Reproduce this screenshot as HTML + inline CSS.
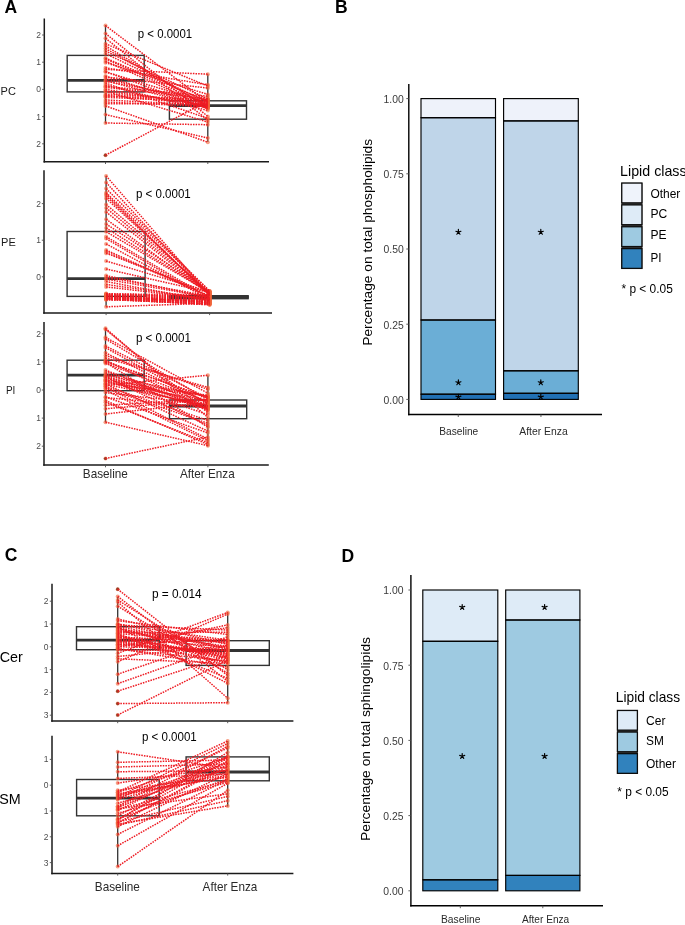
<!DOCTYPE html><html><head><meta charset="utf-8"><style>html,body{margin:0;padding:0;background:#fff;overflow:hidden}svg{display:block;will-change:transform}</style></head><body><svg width="685" height="925" viewBox="0 0 685 925" font-family='"Liberation Sans", sans-serif'>
<rect width="685" height="925" fill="#fff"/>
<text x="4.40" y="13.10" font-size="17.5" text-anchor="start" fill="#000" font-weight="bold">A</text>
<text x="335.00" y="13.10" font-size="17.5" text-anchor="start" fill="#000" font-weight="bold">B</text>
<text x="4.80" y="560.90" font-size="17.5" text-anchor="start" fill="#000" font-weight="bold">C</text>
<text x="341.50" y="562.00" font-size="17.5" text-anchor="start" fill="#000" font-weight="bold">D</text>
<line x1="44.30" y1="18.50" x2="44.30" y2="162.55" stroke="#1a1a1a" stroke-width="1.5"/>
<line x1="43.55" y1="161.80" x2="269.00" y2="161.80" stroke="#1a1a1a" stroke-width="1.5"/>
<line x1="42.10" y1="35.00" x2="44.30" y2="35.00" stroke="#4d4d4d" stroke-width="0.9"/>
<text x="40.90" y="38.00" font-size="8.5" text-anchor="end" fill="#4d4d4d">2</text>
<line x1="42.10" y1="62.20" x2="44.30" y2="62.20" stroke="#4d4d4d" stroke-width="0.9"/>
<text x="40.90" y="65.20" font-size="8.5" text-anchor="end" fill="#4d4d4d">1</text>
<line x1="42.10" y1="89.40" x2="44.30" y2="89.40" stroke="#4d4d4d" stroke-width="0.9"/>
<text x="40.90" y="92.40" font-size="8.5" text-anchor="end" fill="#4d4d4d">0</text>
<line x1="42.10" y1="116.60" x2="44.30" y2="116.60" stroke="#4d4d4d" stroke-width="0.9"/>
<text x="40.90" y="119.60" font-size="8.5" text-anchor="end" fill="#4d4d4d">1</text>
<line x1="42.10" y1="143.80" x2="44.30" y2="143.80" stroke="#4d4d4d" stroke-width="0.9"/>
<text x="40.90" y="146.80" font-size="8.5" text-anchor="end" fill="#4d4d4d">2</text>
<line x1="105.50" y1="161.80" x2="105.50" y2="164.00" stroke="#4d4d4d" stroke-width="0.9"/>
<line x1="207.80" y1="161.80" x2="207.80" y2="164.00" stroke="#4d4d4d" stroke-width="0.9"/>
<line x1="105.50" y1="25.00" x2="105.50" y2="55.40" stroke="#333333" stroke-width="1.3"/>
<line x1="105.50" y1="91.90" x2="105.50" y2="123.20" stroke="#333333" stroke-width="1.3"/>
<rect x="67.20" y="55.40" width="77.00" height="36.50" fill="none" stroke="#333333" stroke-width="1.4"/>
<line x1="67.20" y1="80.30" x2="144.20" y2="80.30" stroke="#333333" stroke-width="2.8"/>
<line x1="207.80" y1="74.20" x2="207.80" y2="100.80" stroke="#333333" stroke-width="1.3"/>
<line x1="207.80" y1="119.20" x2="207.80" y2="142.00" stroke="#333333" stroke-width="1.3"/>
<rect x="169.40" y="100.80" width="77.10" height="18.40" fill="none" stroke="#333333" stroke-width="1.4"/>
<line x1="169.40" y1="105.70" x2="246.50" y2="105.70" stroke="#333333" stroke-width="2.8"/>
<circle cx="105.50" cy="155.20" r="1.6" fill="#000" fill-opacity="1"/>
<circle cx="105.50" cy="43.80" r="2.0" fill="#f0643a" fill-opacity="0.62"/>
<circle cx="207.80" cy="86.10" r="2.0" fill="#f0643a" fill-opacity="0.62"/>
<circle cx="105.50" cy="45.90" r="2.0" fill="#f0643a" fill-opacity="0.62"/>
<circle cx="207.80" cy="107.00" r="2.0" fill="#f0643a" fill-opacity="0.62"/>
<circle cx="105.50" cy="48.50" r="2.0" fill="#f0643a" fill-opacity="0.62"/>
<circle cx="207.80" cy="106.18" r="2.0" fill="#f0643a" fill-opacity="0.62"/>
<circle cx="105.50" cy="51.10" r="2.0" fill="#f0643a" fill-opacity="0.62"/>
<circle cx="207.80" cy="98.96" r="2.0" fill="#f0643a" fill-opacity="0.62"/>
<circle cx="105.50" cy="53.70" r="2.0" fill="#f0643a" fill-opacity="0.62"/>
<circle cx="207.80" cy="102.27" r="2.0" fill="#f0643a" fill-opacity="0.62"/>
<circle cx="105.50" cy="58.12" r="2.0" fill="#f0643a" fill-opacity="0.62"/>
<circle cx="207.80" cy="101.33" r="2.0" fill="#f0643a" fill-opacity="0.62"/>
<circle cx="105.50" cy="58.79" r="2.0" fill="#f0643a" fill-opacity="0.62"/>
<circle cx="207.80" cy="105.10" r="2.0" fill="#f0643a" fill-opacity="0.62"/>
<circle cx="105.50" cy="60.98" r="2.0" fill="#f0643a" fill-opacity="0.62"/>
<circle cx="207.80" cy="107.36" r="2.0" fill="#f0643a" fill-opacity="0.62"/>
<circle cx="105.50" cy="62.64" r="2.0" fill="#f0643a" fill-opacity="0.62"/>
<circle cx="207.80" cy="94.40" r="2.0" fill="#f0643a" fill-opacity="0.62"/>
<circle cx="105.50" cy="67.79" r="2.0" fill="#f0643a" fill-opacity="0.62"/>
<circle cx="207.80" cy="84.80" r="2.0" fill="#f0643a" fill-opacity="0.62"/>
<circle cx="105.50" cy="71.56" r="2.0" fill="#f0643a" fill-opacity="0.62"/>
<circle cx="207.80" cy="108.73" r="2.0" fill="#f0643a" fill-opacity="0.62"/>
<circle cx="105.50" cy="71.90" r="2.0" fill="#f0643a" fill-opacity="0.62"/>
<circle cx="207.80" cy="102.93" r="2.0" fill="#f0643a" fill-opacity="0.62"/>
<circle cx="105.50" cy="76.11" r="2.0" fill="#f0643a" fill-opacity="0.62"/>
<circle cx="207.80" cy="108.43" r="2.0" fill="#f0643a" fill-opacity="0.62"/>
<circle cx="105.50" cy="76.98" r="2.0" fill="#f0643a" fill-opacity="0.62"/>
<circle cx="207.80" cy="88.00" r="2.0" fill="#f0643a" fill-opacity="0.62"/>
<circle cx="105.50" cy="78.70" r="2.0" fill="#f0643a" fill-opacity="0.62"/>
<circle cx="207.80" cy="103.80" r="2.0" fill="#f0643a" fill-opacity="0.62"/>
<circle cx="105.50" cy="80.55" r="2.0" fill="#f0643a" fill-opacity="0.62"/>
<circle cx="207.80" cy="107.86" r="2.0" fill="#f0643a" fill-opacity="0.62"/>
<circle cx="105.50" cy="81.30" r="2.0" fill="#f0643a" fill-opacity="0.62"/>
<circle cx="207.80" cy="100.12" r="2.0" fill="#f0643a" fill-opacity="0.62"/>
<circle cx="105.50" cy="82.99" r="2.0" fill="#f0643a" fill-opacity="0.62"/>
<circle cx="207.80" cy="118.50" r="2.0" fill="#f0643a" fill-opacity="0.62"/>
<circle cx="105.50" cy="85.08" r="2.0" fill="#f0643a" fill-opacity="0.62"/>
<circle cx="207.80" cy="110.50" r="2.0" fill="#f0643a" fill-opacity="0.62"/>
<circle cx="105.50" cy="86.37" r="2.0" fill="#f0643a" fill-opacity="0.62"/>
<circle cx="207.80" cy="96.20" r="2.0" fill="#f0643a" fill-opacity="0.62"/>
<circle cx="105.50" cy="87.35" r="2.0" fill="#f0643a" fill-opacity="0.62"/>
<circle cx="207.80" cy="98.64" r="2.0" fill="#f0643a" fill-opacity="0.62"/>
<circle cx="105.50" cy="89.32" r="2.0" fill="#f0643a" fill-opacity="0.62"/>
<circle cx="207.80" cy="105.74" r="2.0" fill="#f0643a" fill-opacity="0.62"/>
<circle cx="105.50" cy="91.08" r="2.0" fill="#f0643a" fill-opacity="0.62"/>
<circle cx="207.80" cy="122.00" r="2.0" fill="#f0643a" fill-opacity="0.62"/>
<circle cx="105.50" cy="91.36" r="2.0" fill="#f0643a" fill-opacity="0.62"/>
<circle cx="207.80" cy="104.32" r="2.0" fill="#f0643a" fill-opacity="0.62"/>
<circle cx="105.50" cy="93.96" r="2.0" fill="#f0643a" fill-opacity="0.62"/>
<circle cx="207.80" cy="100.43" r="2.0" fill="#f0643a" fill-opacity="0.62"/>
<circle cx="105.50" cy="95.24" r="2.0" fill="#f0643a" fill-opacity="0.62"/>
<circle cx="207.80" cy="104.62" r="2.0" fill="#f0643a" fill-opacity="0.62"/>
<circle cx="105.50" cy="96.17" r="2.0" fill="#f0643a" fill-opacity="0.62"/>
<circle cx="207.80" cy="99.38" r="2.0" fill="#f0643a" fill-opacity="0.62"/>
<circle cx="105.50" cy="97.34" r="2.0" fill="#f0643a" fill-opacity="0.62"/>
<circle cx="207.80" cy="101.67" r="2.0" fill="#f0643a" fill-opacity="0.62"/>
<circle cx="105.50" cy="99.94" r="2.0" fill="#f0643a" fill-opacity="0.62"/>
<circle cx="207.80" cy="105.24" r="2.0" fill="#f0643a" fill-opacity="0.62"/>
<circle cx="105.50" cy="102.00" r="2.0" fill="#f0643a" fill-opacity="0.62"/>
<circle cx="207.80" cy="106.51" r="2.0" fill="#f0643a" fill-opacity="0.62"/>
<circle cx="105.50" cy="103.80" r="2.0" fill="#f0643a" fill-opacity="0.62"/>
<circle cx="207.80" cy="103.47" r="2.0" fill="#f0643a" fill-opacity="0.62"/>
<circle cx="105.50" cy="155.20" r="2.0" fill="#f0643a" fill-opacity="0.62"/>
<circle cx="207.80" cy="100.94" r="2.0" fill="#f0643a" fill-opacity="0.62"/>
<circle cx="105.50" cy="123.00" r="2.0" fill="#f0643a" fill-opacity="0.62"/>
<circle cx="207.80" cy="124.70" r="2.0" fill="#f0643a" fill-opacity="0.62"/>
<circle cx="105.50" cy="25.60" r="2.0" fill="#f0643a" fill-opacity="0.62"/>
<circle cx="207.80" cy="102.44" r="2.0" fill="#f0643a" fill-opacity="0.62"/>
<circle cx="105.50" cy="33.40" r="2.0" fill="#f0643a" fill-opacity="0.62"/>
<circle cx="207.80" cy="116.40" r="2.0" fill="#f0643a" fill-opacity="0.62"/>
<circle cx="105.50" cy="38.20" r="2.0" fill="#f0643a" fill-opacity="0.62"/>
<circle cx="207.80" cy="120.10" r="2.0" fill="#f0643a" fill-opacity="0.62"/>
<circle cx="105.50" cy="69.43" r="2.0" fill="#f0643a" fill-opacity="0.62"/>
<circle cx="207.80" cy="74.20" r="2.0" fill="#f0643a" fill-opacity="0.62"/>
<circle cx="105.50" cy="114.60" r="2.0" fill="#f0643a" fill-opacity="0.62"/>
<circle cx="207.80" cy="138.00" r="2.0" fill="#f0643a" fill-opacity="0.62"/>
<circle cx="105.50" cy="105.90" r="2.0" fill="#f0643a" fill-opacity="0.62"/>
<circle cx="207.80" cy="142.20" r="2.0" fill="#f0643a" fill-opacity="0.62"/>
<line x1="105.50" y1="43.80" x2="207.80" y2="86.10" stroke="#ee1c24" stroke-width="1.5" stroke-dasharray="1.55 1.1"/>
<line x1="105.50" y1="45.90" x2="207.80" y2="107.00" stroke="#ee1c24" stroke-width="1.5" stroke-dasharray="1.55 1.1"/>
<line x1="105.50" y1="48.50" x2="207.80" y2="106.18" stroke="#ee1c24" stroke-width="1.5" stroke-dasharray="1.55 1.1"/>
<line x1="105.50" y1="51.10" x2="207.80" y2="98.96" stroke="#ee1c24" stroke-width="1.5" stroke-dasharray="1.55 1.1"/>
<line x1="105.50" y1="53.70" x2="207.80" y2="102.27" stroke="#ee1c24" stroke-width="1.5" stroke-dasharray="1.55 1.1"/>
<line x1="105.50" y1="58.12" x2="207.80" y2="101.33" stroke="#ee1c24" stroke-width="1.5" stroke-dasharray="1.55 1.1"/>
<line x1="105.50" y1="58.79" x2="207.80" y2="105.10" stroke="#ee1c24" stroke-width="1.5" stroke-dasharray="1.55 1.1"/>
<line x1="105.50" y1="60.98" x2="207.80" y2="107.36" stroke="#ee1c24" stroke-width="1.5" stroke-dasharray="1.55 1.1"/>
<line x1="105.50" y1="62.64" x2="207.80" y2="94.40" stroke="#ee1c24" stroke-width="1.5" stroke-dasharray="1.55 1.1"/>
<line x1="105.50" y1="67.79" x2="207.80" y2="84.80" stroke="#ee1c24" stroke-width="1.5" stroke-dasharray="1.55 1.1"/>
<line x1="105.50" y1="71.56" x2="207.80" y2="108.73" stroke="#ee1c24" stroke-width="1.5" stroke-dasharray="1.55 1.1"/>
<line x1="105.50" y1="71.90" x2="207.80" y2="102.93" stroke="#ee1c24" stroke-width="1.5" stroke-dasharray="1.55 1.1"/>
<line x1="105.50" y1="76.11" x2="207.80" y2="108.43" stroke="#ee1c24" stroke-width="1.5" stroke-dasharray="1.55 1.1"/>
<line x1="105.50" y1="76.98" x2="207.80" y2="88.00" stroke="#ee1c24" stroke-width="1.5" stroke-dasharray="1.55 1.1"/>
<line x1="105.50" y1="78.70" x2="207.80" y2="103.80" stroke="#ee1c24" stroke-width="1.5" stroke-dasharray="1.55 1.1"/>
<line x1="105.50" y1="80.55" x2="207.80" y2="107.86" stroke="#ee1c24" stroke-width="1.5" stroke-dasharray="1.55 1.1"/>
<line x1="105.50" y1="81.30" x2="207.80" y2="100.12" stroke="#ee1c24" stroke-width="1.5" stroke-dasharray="1.55 1.1"/>
<line x1="105.50" y1="82.99" x2="207.80" y2="118.50" stroke="#ee1c24" stroke-width="1.5" stroke-dasharray="1.55 1.1"/>
<line x1="105.50" y1="85.08" x2="207.80" y2="110.50" stroke="#ee1c24" stroke-width="1.5" stroke-dasharray="1.55 1.1"/>
<line x1="105.50" y1="86.37" x2="207.80" y2="96.20" stroke="#ee1c24" stroke-width="1.5" stroke-dasharray="1.55 1.1"/>
<line x1="105.50" y1="87.35" x2="207.80" y2="98.64" stroke="#ee1c24" stroke-width="1.5" stroke-dasharray="1.55 1.1"/>
<line x1="105.50" y1="89.32" x2="207.80" y2="105.74" stroke="#ee1c24" stroke-width="1.5" stroke-dasharray="1.55 1.1"/>
<line x1="105.50" y1="91.08" x2="207.80" y2="122.00" stroke="#ee1c24" stroke-width="1.5" stroke-dasharray="1.55 1.1"/>
<line x1="105.50" y1="91.36" x2="207.80" y2="104.32" stroke="#ee1c24" stroke-width="1.5" stroke-dasharray="1.55 1.1"/>
<line x1="105.50" y1="93.96" x2="207.80" y2="100.43" stroke="#ee1c24" stroke-width="1.5" stroke-dasharray="1.55 1.1"/>
<line x1="105.50" y1="95.24" x2="207.80" y2="104.62" stroke="#ee1c24" stroke-width="1.5" stroke-dasharray="1.55 1.1"/>
<line x1="105.50" y1="96.17" x2="207.80" y2="99.38" stroke="#ee1c24" stroke-width="1.5" stroke-dasharray="1.55 1.1"/>
<line x1="105.50" y1="97.34" x2="207.80" y2="101.67" stroke="#ee1c24" stroke-width="1.5" stroke-dasharray="1.55 1.1"/>
<line x1="105.50" y1="99.94" x2="207.80" y2="105.24" stroke="#ee1c24" stroke-width="1.5" stroke-dasharray="1.55 1.1"/>
<line x1="105.50" y1="102.00" x2="207.80" y2="106.51" stroke="#ee1c24" stroke-width="1.5" stroke-dasharray="1.55 1.1"/>
<line x1="105.50" y1="103.80" x2="207.80" y2="103.47" stroke="#ee1c24" stroke-width="1.5" stroke-dasharray="1.55 1.1"/>
<line x1="105.50" y1="155.20" x2="207.80" y2="100.94" stroke="#ee1c24" stroke-width="1.5" stroke-dasharray="1.55 1.1"/>
<line x1="105.50" y1="123.00" x2="207.80" y2="124.70" stroke="#ee1c24" stroke-width="1.5" stroke-dasharray="1.55 1.1"/>
<line x1="105.50" y1="25.60" x2="207.80" y2="102.44" stroke="#ee1c24" stroke-width="1.5" stroke-dasharray="1.55 1.1"/>
<line x1="105.50" y1="33.40" x2="207.80" y2="116.40" stroke="#ee1c24" stroke-width="1.5" stroke-dasharray="1.55 1.1"/>
<line x1="105.50" y1="38.20" x2="207.80" y2="120.10" stroke="#ee1c24" stroke-width="1.5" stroke-dasharray="1.55 1.1"/>
<line x1="105.50" y1="69.43" x2="207.80" y2="74.20" stroke="#ee1c24" stroke-width="1.5" stroke-dasharray="1.55 1.1"/>
<line x1="105.50" y1="114.60" x2="207.80" y2="138.00" stroke="#ee1c24" stroke-width="1.5" stroke-dasharray="1.55 1.1"/>
<line x1="105.50" y1="105.90" x2="207.80" y2="142.20" stroke="#ee1c24" stroke-width="1.5" stroke-dasharray="1.55 1.1"/>
<text x="15.90" y="94.90" font-size="11.8" text-anchor="end" fill="#1a1a1a" textLength="15.3" lengthAdjust="spacingAndGlyphs">PC</text>
<text x="137.80" y="37.90" font-size="12" text-anchor="start" fill="#000" textLength="54.3" lengthAdjust="spacingAndGlyphs">p &lt; 0.0001</text>
<line x1="44.00" y1="170.20" x2="44.00" y2="313.65" stroke="#1a1a1a" stroke-width="1.5"/>
<line x1="43.25" y1="312.90" x2="272.00" y2="312.90" stroke="#1a1a1a" stroke-width="1.5"/>
<line x1="41.80" y1="203.60" x2="44.00" y2="203.60" stroke="#4d4d4d" stroke-width="0.9"/>
<text x="40.90" y="206.60" font-size="8.5" text-anchor="end" fill="#4d4d4d">2</text>
<line x1="41.80" y1="240.20" x2="44.00" y2="240.20" stroke="#4d4d4d" stroke-width="0.9"/>
<text x="40.90" y="243.20" font-size="8.5" text-anchor="end" fill="#4d4d4d">1</text>
<line x1="41.80" y1="276.80" x2="44.00" y2="276.80" stroke="#4d4d4d" stroke-width="0.9"/>
<text x="40.90" y="279.80" font-size="8.5" text-anchor="end" fill="#4d4d4d">0</text>
<line x1="106.10" y1="312.90" x2="106.10" y2="315.10" stroke="#4d4d4d" stroke-width="0.9"/>
<line x1="209.60" y1="312.90" x2="209.60" y2="315.10" stroke="#4d4d4d" stroke-width="0.9"/>
<line x1="106.10" y1="175.80" x2="106.10" y2="231.50" stroke="#333333" stroke-width="1.3"/>
<line x1="106.10" y1="296.40" x2="106.10" y2="306.40" stroke="#333333" stroke-width="1.3"/>
<rect x="67.10" y="231.50" width="78.00" height="64.90" fill="none" stroke="#333333" stroke-width="1.4"/>
<line x1="67.10" y1="278.60" x2="145.10" y2="278.60" stroke="#333333" stroke-width="2.8"/>
<line x1="209.60" y1="297.20" x2="209.60" y2="297.20" stroke="#333333" stroke-width="1.3"/>
<line x1="209.60" y1="297.20" x2="209.60" y2="297.20" stroke="#333333" stroke-width="1.3"/>
<rect x="169.30" y="297.20" width="79.50" height="0.00" fill="none" stroke="#333333" stroke-width="1.4"/>
<line x1="169.30" y1="297.20" x2="248.80" y2="297.20" stroke="#333333" stroke-width="2.8"/>
<rect x="169.30" y="295.00" width="79.50" height="4.40" fill="#333333" stroke="none" stroke-width="0"/>
<circle cx="106.10" cy="175.90" r="2.0" fill="#f0643a" fill-opacity="0.62"/>
<circle cx="209.60" cy="295.28" r="2.0" fill="#f0643a" fill-opacity="0.62"/>
<circle cx="106.10" cy="182.50" r="2.0" fill="#f0643a" fill-opacity="0.62"/>
<circle cx="209.60" cy="295.59" r="2.0" fill="#f0643a" fill-opacity="0.62"/>
<circle cx="106.10" cy="188.60" r="2.0" fill="#f0643a" fill-opacity="0.62"/>
<circle cx="209.60" cy="290.97" r="2.0" fill="#f0643a" fill-opacity="0.62"/>
<circle cx="106.10" cy="192.70" r="2.0" fill="#f0643a" fill-opacity="0.62"/>
<circle cx="209.60" cy="291.24" r="2.0" fill="#f0643a" fill-opacity="0.62"/>
<circle cx="106.10" cy="194.20" r="2.0" fill="#f0643a" fill-opacity="0.62"/>
<circle cx="209.60" cy="295.42" r="2.0" fill="#f0643a" fill-opacity="0.62"/>
<circle cx="106.10" cy="196.10" r="2.0" fill="#f0643a" fill-opacity="0.62"/>
<circle cx="209.60" cy="294.53" r="2.0" fill="#f0643a" fill-opacity="0.62"/>
<circle cx="106.10" cy="198.40" r="2.0" fill="#f0643a" fill-opacity="0.62"/>
<circle cx="209.60" cy="293.64" r="2.0" fill="#f0643a" fill-opacity="0.62"/>
<circle cx="106.10" cy="204.50" r="2.0" fill="#f0643a" fill-opacity="0.62"/>
<circle cx="209.60" cy="291.75" r="2.0" fill="#f0643a" fill-opacity="0.62"/>
<circle cx="106.10" cy="208.00" r="2.0" fill="#f0643a" fill-opacity="0.62"/>
<circle cx="209.60" cy="293.43" r="2.0" fill="#f0643a" fill-opacity="0.62"/>
<circle cx="106.10" cy="212.00" r="2.0" fill="#f0643a" fill-opacity="0.62"/>
<circle cx="209.60" cy="294.01" r="2.0" fill="#f0643a" fill-opacity="0.62"/>
<circle cx="106.10" cy="219.20" r="2.0" fill="#f0643a" fill-opacity="0.62"/>
<circle cx="209.60" cy="294.39" r="2.0" fill="#f0643a" fill-opacity="0.62"/>
<circle cx="106.10" cy="224.00" r="2.0" fill="#f0643a" fill-opacity="0.62"/>
<circle cx="209.60" cy="291.36" r="2.0" fill="#f0643a" fill-opacity="0.62"/>
<circle cx="106.10" cy="228.00" r="2.0" fill="#f0643a" fill-opacity="0.62"/>
<circle cx="209.60" cy="292.78" r="2.0" fill="#f0643a" fill-opacity="0.62"/>
<circle cx="106.10" cy="231.70" r="2.0" fill="#f0643a" fill-opacity="0.62"/>
<circle cx="209.60" cy="292.55" r="2.0" fill="#f0643a" fill-opacity="0.62"/>
<circle cx="106.10" cy="236.60" r="2.0" fill="#f0643a" fill-opacity="0.62"/>
<circle cx="209.60" cy="298.13" r="2.0" fill="#f0643a" fill-opacity="0.62"/>
<circle cx="106.10" cy="238.60" r="2.0" fill="#f0643a" fill-opacity="0.62"/>
<circle cx="209.60" cy="299.76" r="2.0" fill="#f0643a" fill-opacity="0.62"/>
<circle cx="106.10" cy="243.90" r="2.0" fill="#f0643a" fill-opacity="0.62"/>
<circle cx="209.60" cy="299.49" r="2.0" fill="#f0643a" fill-opacity="0.62"/>
<circle cx="106.10" cy="250.00" r="2.0" fill="#f0643a" fill-opacity="0.62"/>
<circle cx="209.60" cy="296.60" r="2.0" fill="#f0643a" fill-opacity="0.62"/>
<circle cx="106.10" cy="251.60" r="2.0" fill="#f0643a" fill-opacity="0.62"/>
<circle cx="209.60" cy="295.86" r="2.0" fill="#f0643a" fill-opacity="0.62"/>
<circle cx="106.10" cy="253.20" r="2.0" fill="#f0643a" fill-opacity="0.62"/>
<circle cx="209.60" cy="293.06" r="2.0" fill="#f0643a" fill-opacity="0.62"/>
<circle cx="106.10" cy="261.00" r="2.0" fill="#f0643a" fill-opacity="0.62"/>
<circle cx="209.60" cy="291.96" r="2.0" fill="#f0643a" fill-opacity="0.62"/>
<circle cx="106.10" cy="269.00" r="2.0" fill="#f0643a" fill-opacity="0.62"/>
<circle cx="209.60" cy="292.39" r="2.0" fill="#f0643a" fill-opacity="0.62"/>
<circle cx="106.10" cy="275.60" r="2.0" fill="#f0643a" fill-opacity="0.62"/>
<circle cx="209.60" cy="297.67" r="2.0" fill="#f0643a" fill-opacity="0.62"/>
<circle cx="106.10" cy="277.20" r="2.0" fill="#f0643a" fill-opacity="0.62"/>
<circle cx="209.60" cy="296.17" r="2.0" fill="#f0643a" fill-opacity="0.62"/>
<circle cx="106.10" cy="279.20" r="2.0" fill="#f0643a" fill-opacity="0.62"/>
<circle cx="209.60" cy="297.30" r="2.0" fill="#f0643a" fill-opacity="0.62"/>
<circle cx="106.10" cy="281.60" r="2.0" fill="#f0643a" fill-opacity="0.62"/>
<circle cx="209.60" cy="300.74" r="2.0" fill="#f0643a" fill-opacity="0.62"/>
<circle cx="106.10" cy="284.50" r="2.0" fill="#f0643a" fill-opacity="0.62"/>
<circle cx="209.60" cy="298.95" r="2.0" fill="#f0643a" fill-opacity="0.62"/>
<circle cx="106.10" cy="286.90" r="2.0" fill="#f0643a" fill-opacity="0.62"/>
<circle cx="209.60" cy="299.00" r="2.0" fill="#f0643a" fill-opacity="0.62"/>
<circle cx="106.10" cy="293.61" r="2.0" fill="#f0643a" fill-opacity="0.62"/>
<circle cx="209.60" cy="297.11" r="2.0" fill="#f0643a" fill-opacity="0.62"/>
<circle cx="106.10" cy="293.87" r="2.0" fill="#f0643a" fill-opacity="0.62"/>
<circle cx="209.60" cy="294.77" r="2.0" fill="#f0643a" fill-opacity="0.62"/>
<circle cx="106.10" cy="294.20" r="2.0" fill="#f0643a" fill-opacity="0.62"/>
<circle cx="209.60" cy="298.29" r="2.0" fill="#f0643a" fill-opacity="0.62"/>
<circle cx="106.10" cy="294.72" r="2.0" fill="#f0643a" fill-opacity="0.62"/>
<circle cx="209.60" cy="296.93" r="2.0" fill="#f0643a" fill-opacity="0.62"/>
<circle cx="106.10" cy="294.94" r="2.0" fill="#f0643a" fill-opacity="0.62"/>
<circle cx="209.60" cy="300.01" r="2.0" fill="#f0643a" fill-opacity="0.62"/>
<circle cx="106.10" cy="295.24" r="2.0" fill="#f0643a" fill-opacity="0.62"/>
<circle cx="209.60" cy="302.76" r="2.0" fill="#f0643a" fill-opacity="0.62"/>
<circle cx="106.10" cy="295.41" r="2.0" fill="#f0643a" fill-opacity="0.62"/>
<circle cx="209.60" cy="301.12" r="2.0" fill="#f0643a" fill-opacity="0.62"/>
<circle cx="106.10" cy="295.89" r="2.0" fill="#f0643a" fill-opacity="0.62"/>
<circle cx="209.60" cy="298.70" r="2.0" fill="#f0643a" fill-opacity="0.62"/>
<circle cx="106.10" cy="296.03" r="2.0" fill="#f0643a" fill-opacity="0.62"/>
<circle cx="209.60" cy="302.57" r="2.0" fill="#f0643a" fill-opacity="0.62"/>
<circle cx="106.10" cy="296.40" r="2.0" fill="#f0643a" fill-opacity="0.62"/>
<circle cx="209.60" cy="301.84" r="2.0" fill="#f0643a" fill-opacity="0.62"/>
<circle cx="106.10" cy="296.90" r="2.0" fill="#f0643a" fill-opacity="0.62"/>
<circle cx="209.60" cy="301.41" r="2.0" fill="#f0643a" fill-opacity="0.62"/>
<circle cx="106.10" cy="297.10" r="2.0" fill="#f0643a" fill-opacity="0.62"/>
<circle cx="209.60" cy="303.66" r="2.0" fill="#f0643a" fill-opacity="0.62"/>
<circle cx="106.10" cy="297.39" r="2.0" fill="#f0643a" fill-opacity="0.62"/>
<circle cx="209.60" cy="302.22" r="2.0" fill="#f0643a" fill-opacity="0.62"/>
<circle cx="106.10" cy="297.74" r="2.0" fill="#f0643a" fill-opacity="0.62"/>
<circle cx="209.60" cy="303.53" r="2.0" fill="#f0643a" fill-opacity="0.62"/>
<circle cx="106.10" cy="298.09" r="2.0" fill="#f0643a" fill-opacity="0.62"/>
<circle cx="209.60" cy="300.61" r="2.0" fill="#f0643a" fill-opacity="0.62"/>
<circle cx="106.10" cy="298.38" r="2.0" fill="#f0643a" fill-opacity="0.62"/>
<circle cx="209.60" cy="304.47" r="2.0" fill="#f0643a" fill-opacity="0.62"/>
<circle cx="106.10" cy="298.52" r="2.0" fill="#f0643a" fill-opacity="0.62"/>
<circle cx="209.60" cy="304.93" r="2.0" fill="#f0643a" fill-opacity="0.62"/>
<circle cx="106.10" cy="298.77" r="2.0" fill="#f0643a" fill-opacity="0.62"/>
<circle cx="209.60" cy="300.21" r="2.0" fill="#f0643a" fill-opacity="0.62"/>
<circle cx="106.10" cy="299.17" r="2.0" fill="#f0643a" fill-opacity="0.62"/>
<circle cx="209.60" cy="304.32" r="2.0" fill="#f0643a" fill-opacity="0.62"/>
<circle cx="106.10" cy="299.46" r="2.0" fill="#f0643a" fill-opacity="0.62"/>
<circle cx="209.60" cy="304.04" r="2.0" fill="#f0643a" fill-opacity="0.62"/>
<circle cx="106.10" cy="299.76" r="2.0" fill="#f0643a" fill-opacity="0.62"/>
<circle cx="209.60" cy="302.10" r="2.0" fill="#f0643a" fill-opacity="0.62"/>
<circle cx="106.10" cy="306.80" r="2.0" fill="#f0643a" fill-opacity="0.62"/>
<circle cx="209.60" cy="303.26" r="2.0" fill="#f0643a" fill-opacity="0.62"/>
<line x1="106.10" y1="175.90" x2="209.60" y2="295.28" stroke="#ee1c24" stroke-width="1.5" stroke-dasharray="1.55 1.1"/>
<line x1="106.10" y1="182.50" x2="209.60" y2="295.59" stroke="#ee1c24" stroke-width="1.5" stroke-dasharray="1.55 1.1"/>
<line x1="106.10" y1="188.60" x2="209.60" y2="290.97" stroke="#ee1c24" stroke-width="1.5" stroke-dasharray="1.55 1.1"/>
<line x1="106.10" y1="192.70" x2="209.60" y2="291.24" stroke="#ee1c24" stroke-width="1.5" stroke-dasharray="1.55 1.1"/>
<line x1="106.10" y1="194.20" x2="209.60" y2="295.42" stroke="#ee1c24" stroke-width="1.5" stroke-dasharray="1.55 1.1"/>
<line x1="106.10" y1="196.10" x2="209.60" y2="294.53" stroke="#ee1c24" stroke-width="1.5" stroke-dasharray="1.55 1.1"/>
<line x1="106.10" y1="198.40" x2="209.60" y2="293.64" stroke="#ee1c24" stroke-width="1.5" stroke-dasharray="1.55 1.1"/>
<line x1="106.10" y1="204.50" x2="209.60" y2="291.75" stroke="#ee1c24" stroke-width="1.5" stroke-dasharray="1.55 1.1"/>
<line x1="106.10" y1="208.00" x2="209.60" y2="293.43" stroke="#ee1c24" stroke-width="1.5" stroke-dasharray="1.55 1.1"/>
<line x1="106.10" y1="212.00" x2="209.60" y2="294.01" stroke="#ee1c24" stroke-width="1.5" stroke-dasharray="1.55 1.1"/>
<line x1="106.10" y1="219.20" x2="209.60" y2="294.39" stroke="#ee1c24" stroke-width="1.5" stroke-dasharray="1.55 1.1"/>
<line x1="106.10" y1="224.00" x2="209.60" y2="291.36" stroke="#ee1c24" stroke-width="1.5" stroke-dasharray="1.55 1.1"/>
<line x1="106.10" y1="228.00" x2="209.60" y2="292.78" stroke="#ee1c24" stroke-width="1.5" stroke-dasharray="1.55 1.1"/>
<line x1="106.10" y1="231.70" x2="209.60" y2="292.55" stroke="#ee1c24" stroke-width="1.5" stroke-dasharray="1.55 1.1"/>
<line x1="106.10" y1="236.60" x2="209.60" y2="298.13" stroke="#ee1c24" stroke-width="1.5" stroke-dasharray="1.55 1.1"/>
<line x1="106.10" y1="238.60" x2="209.60" y2="299.76" stroke="#ee1c24" stroke-width="1.5" stroke-dasharray="1.55 1.1"/>
<line x1="106.10" y1="243.90" x2="209.60" y2="299.49" stroke="#ee1c24" stroke-width="1.5" stroke-dasharray="1.55 1.1"/>
<line x1="106.10" y1="250.00" x2="209.60" y2="296.60" stroke="#ee1c24" stroke-width="1.5" stroke-dasharray="1.55 1.1"/>
<line x1="106.10" y1="251.60" x2="209.60" y2="295.86" stroke="#ee1c24" stroke-width="1.5" stroke-dasharray="1.55 1.1"/>
<line x1="106.10" y1="253.20" x2="209.60" y2="293.06" stroke="#ee1c24" stroke-width="1.5" stroke-dasharray="1.55 1.1"/>
<line x1="106.10" y1="261.00" x2="209.60" y2="291.96" stroke="#ee1c24" stroke-width="1.5" stroke-dasharray="1.55 1.1"/>
<line x1="106.10" y1="269.00" x2="209.60" y2="292.39" stroke="#ee1c24" stroke-width="1.5" stroke-dasharray="1.55 1.1"/>
<line x1="106.10" y1="275.60" x2="209.60" y2="297.67" stroke="#ee1c24" stroke-width="1.5" stroke-dasharray="1.55 1.1"/>
<line x1="106.10" y1="277.20" x2="209.60" y2="296.17" stroke="#ee1c24" stroke-width="1.5" stroke-dasharray="1.55 1.1"/>
<line x1="106.10" y1="279.20" x2="209.60" y2="297.30" stroke="#ee1c24" stroke-width="1.5" stroke-dasharray="1.55 1.1"/>
<line x1="106.10" y1="281.60" x2="209.60" y2="300.74" stroke="#ee1c24" stroke-width="1.5" stroke-dasharray="1.55 1.1"/>
<line x1="106.10" y1="284.50" x2="209.60" y2="298.95" stroke="#ee1c24" stroke-width="1.5" stroke-dasharray="1.55 1.1"/>
<line x1="106.10" y1="286.90" x2="209.60" y2="299.00" stroke="#ee1c24" stroke-width="1.5" stroke-dasharray="1.55 1.1"/>
<line x1="106.10" y1="293.61" x2="209.60" y2="297.11" stroke="#ee1c24" stroke-width="1.5" stroke-dasharray="1.55 1.1"/>
<line x1="106.10" y1="293.87" x2="209.60" y2="294.77" stroke="#ee1c24" stroke-width="1.5" stroke-dasharray="1.55 1.1"/>
<line x1="106.10" y1="294.20" x2="209.60" y2="298.29" stroke="#ee1c24" stroke-width="1.5" stroke-dasharray="1.55 1.1"/>
<line x1="106.10" y1="294.72" x2="209.60" y2="296.93" stroke="#ee1c24" stroke-width="1.5" stroke-dasharray="1.55 1.1"/>
<line x1="106.10" y1="294.94" x2="209.60" y2="300.01" stroke="#ee1c24" stroke-width="1.5" stroke-dasharray="1.55 1.1"/>
<line x1="106.10" y1="295.24" x2="209.60" y2="302.76" stroke="#ee1c24" stroke-width="1.5" stroke-dasharray="1.55 1.1"/>
<line x1="106.10" y1="295.41" x2="209.60" y2="301.12" stroke="#ee1c24" stroke-width="1.5" stroke-dasharray="1.55 1.1"/>
<line x1="106.10" y1="295.89" x2="209.60" y2="298.70" stroke="#ee1c24" stroke-width="1.5" stroke-dasharray="1.55 1.1"/>
<line x1="106.10" y1="296.03" x2="209.60" y2="302.57" stroke="#ee1c24" stroke-width="1.5" stroke-dasharray="1.55 1.1"/>
<line x1="106.10" y1="296.40" x2="209.60" y2="301.84" stroke="#ee1c24" stroke-width="1.5" stroke-dasharray="1.55 1.1"/>
<line x1="106.10" y1="296.90" x2="209.60" y2="301.41" stroke="#ee1c24" stroke-width="1.5" stroke-dasharray="1.55 1.1"/>
<line x1="106.10" y1="297.10" x2="209.60" y2="303.66" stroke="#ee1c24" stroke-width="1.5" stroke-dasharray="1.55 1.1"/>
<line x1="106.10" y1="297.39" x2="209.60" y2="302.22" stroke="#ee1c24" stroke-width="1.5" stroke-dasharray="1.55 1.1"/>
<line x1="106.10" y1="297.74" x2="209.60" y2="303.53" stroke="#ee1c24" stroke-width="1.5" stroke-dasharray="1.55 1.1"/>
<line x1="106.10" y1="298.09" x2="209.60" y2="300.61" stroke="#ee1c24" stroke-width="1.5" stroke-dasharray="1.55 1.1"/>
<line x1="106.10" y1="298.38" x2="209.60" y2="304.47" stroke="#ee1c24" stroke-width="1.5" stroke-dasharray="1.55 1.1"/>
<line x1="106.10" y1="298.52" x2="209.60" y2="304.93" stroke="#ee1c24" stroke-width="1.5" stroke-dasharray="1.55 1.1"/>
<line x1="106.10" y1="298.77" x2="209.60" y2="300.21" stroke="#ee1c24" stroke-width="1.5" stroke-dasharray="1.55 1.1"/>
<line x1="106.10" y1="299.17" x2="209.60" y2="304.32" stroke="#ee1c24" stroke-width="1.5" stroke-dasharray="1.55 1.1"/>
<line x1="106.10" y1="299.46" x2="209.60" y2="304.04" stroke="#ee1c24" stroke-width="1.5" stroke-dasharray="1.55 1.1"/>
<line x1="106.10" y1="299.76" x2="209.60" y2="302.10" stroke="#ee1c24" stroke-width="1.5" stroke-dasharray="1.55 1.1"/>
<line x1="106.10" y1="306.80" x2="209.60" y2="303.26" stroke="#ee1c24" stroke-width="1.5" stroke-dasharray="1.55 1.1"/>
<text x="15.80" y="245.50" font-size="11.8" text-anchor="end" fill="#1a1a1a" textLength="14.7" lengthAdjust="spacingAndGlyphs">PE</text>
<text x="135.90" y="197.90" font-size="12" text-anchor="start" fill="#000" textLength="54.9" lengthAdjust="spacingAndGlyphs">p &lt; 0.0001</text>
<line x1="44.00" y1="322.00" x2="44.00" y2="465.85" stroke="#1a1a1a" stroke-width="1.5"/>
<line x1="43.25" y1="465.10" x2="268.80" y2="465.10" stroke="#1a1a1a" stroke-width="1.5"/>
<line x1="41.80" y1="333.80" x2="44.00" y2="333.80" stroke="#4d4d4d" stroke-width="0.9"/>
<text x="40.90" y="336.80" font-size="8.5" text-anchor="end" fill="#4d4d4d">2</text>
<line x1="41.80" y1="361.90" x2="44.00" y2="361.90" stroke="#4d4d4d" stroke-width="0.9"/>
<text x="40.90" y="364.90" font-size="8.5" text-anchor="end" fill="#4d4d4d">1</text>
<line x1="41.80" y1="390.00" x2="44.00" y2="390.00" stroke="#4d4d4d" stroke-width="0.9"/>
<text x="40.90" y="393.00" font-size="8.5" text-anchor="end" fill="#4d4d4d">0</text>
<line x1="41.80" y1="418.10" x2="44.00" y2="418.10" stroke="#4d4d4d" stroke-width="0.9"/>
<text x="40.90" y="421.10" font-size="8.5" text-anchor="end" fill="#4d4d4d">1</text>
<line x1="41.80" y1="446.20" x2="44.00" y2="446.20" stroke="#4d4d4d" stroke-width="0.9"/>
<text x="40.90" y="449.20" font-size="8.5" text-anchor="end" fill="#4d4d4d">2</text>
<line x1="105.50" y1="465.10" x2="105.50" y2="467.30" stroke="#4d4d4d" stroke-width="0.9"/>
<line x1="207.90" y1="465.10" x2="207.90" y2="467.30" stroke="#4d4d4d" stroke-width="0.9"/>
<line x1="105.50" y1="327.60" x2="105.50" y2="360.20" stroke="#333333" stroke-width="1.3"/>
<line x1="105.50" y1="390.70" x2="105.50" y2="422.20" stroke="#333333" stroke-width="1.3"/>
<rect x="67.10" y="360.20" width="77.10" height="30.50" fill="none" stroke="#333333" stroke-width="1.4"/>
<line x1="67.10" y1="375.10" x2="144.20" y2="375.10" stroke="#333333" stroke-width="2.8"/>
<line x1="207.90" y1="375.40" x2="207.90" y2="400.00" stroke="#333333" stroke-width="1.3"/>
<line x1="207.90" y1="418.70" x2="207.90" y2="446.30" stroke="#333333" stroke-width="1.3"/>
<rect x="169.50" y="400.00" width="77.20" height="18.70" fill="none" stroke="#333333" stroke-width="1.4"/>
<line x1="169.50" y1="406.00" x2="246.70" y2="406.00" stroke="#333333" stroke-width="2.8"/>
<circle cx="105.50" cy="458.50" r="1.6" fill="#000" fill-opacity="1"/>
<circle cx="105.50" cy="337.30" r="2.0" fill="#f0643a" fill-opacity="0.62"/>
<circle cx="207.90" cy="393.20" r="2.0" fill="#f0643a" fill-opacity="0.62"/>
<circle cx="105.50" cy="339.00" r="2.0" fill="#f0643a" fill-opacity="0.62"/>
<circle cx="207.90" cy="400.16" r="2.0" fill="#f0643a" fill-opacity="0.62"/>
<circle cx="105.50" cy="345.90" r="2.0" fill="#f0643a" fill-opacity="0.62"/>
<circle cx="207.90" cy="398.29" r="2.0" fill="#f0643a" fill-opacity="0.62"/>
<circle cx="105.50" cy="347.70" r="2.0" fill="#f0643a" fill-opacity="0.62"/>
<circle cx="207.90" cy="403.25" r="2.0" fill="#f0643a" fill-opacity="0.62"/>
<circle cx="105.50" cy="352.80" r="2.0" fill="#f0643a" fill-opacity="0.62"/>
<circle cx="207.90" cy="403.64" r="2.0" fill="#f0643a" fill-opacity="0.62"/>
<circle cx="105.50" cy="355.40" r="2.0" fill="#f0643a" fill-opacity="0.62"/>
<circle cx="207.90" cy="389.30" r="2.0" fill="#f0643a" fill-opacity="0.62"/>
<circle cx="105.50" cy="358.00" r="2.0" fill="#f0643a" fill-opacity="0.62"/>
<circle cx="207.90" cy="387.40" r="2.0" fill="#f0643a" fill-opacity="0.62"/>
<circle cx="105.50" cy="360.25" r="2.0" fill="#f0643a" fill-opacity="0.62"/>
<circle cx="207.90" cy="409.30" r="2.0" fill="#f0643a" fill-opacity="0.62"/>
<circle cx="105.50" cy="361.29" r="2.0" fill="#f0643a" fill-opacity="0.62"/>
<circle cx="207.90" cy="397.62" r="2.0" fill="#f0643a" fill-opacity="0.62"/>
<circle cx="105.50" cy="361.93" r="2.0" fill="#f0643a" fill-opacity="0.62"/>
<circle cx="207.90" cy="397.34" r="2.0" fill="#f0643a" fill-opacity="0.62"/>
<circle cx="105.50" cy="362.32" r="2.0" fill="#f0643a" fill-opacity="0.62"/>
<circle cx="207.90" cy="427.20" r="2.0" fill="#f0643a" fill-opacity="0.62"/>
<circle cx="105.50" cy="363.43" r="2.0" fill="#f0643a" fill-opacity="0.62"/>
<circle cx="207.90" cy="401.17" r="2.0" fill="#f0643a" fill-opacity="0.62"/>
<circle cx="105.50" cy="370.10" r="2.0" fill="#f0643a" fill-opacity="0.62"/>
<circle cx="207.90" cy="410.18" r="2.0" fill="#f0643a" fill-opacity="0.62"/>
<circle cx="105.50" cy="371.90" r="2.0" fill="#f0643a" fill-opacity="0.62"/>
<circle cx="207.90" cy="401.83" r="2.0" fill="#f0643a" fill-opacity="0.62"/>
<circle cx="105.50" cy="373.62" r="2.0" fill="#f0643a" fill-opacity="0.62"/>
<circle cx="207.90" cy="406.04" r="2.0" fill="#f0643a" fill-opacity="0.62"/>
<circle cx="105.50" cy="375.18" r="2.0" fill="#f0643a" fill-opacity="0.62"/>
<circle cx="207.90" cy="396.62" r="2.0" fill="#f0643a" fill-opacity="0.62"/>
<circle cx="105.50" cy="375.95" r="2.0" fill="#f0643a" fill-opacity="0.62"/>
<circle cx="207.90" cy="407.04" r="2.0" fill="#f0643a" fill-opacity="0.62"/>
<circle cx="105.50" cy="376.73" r="2.0" fill="#f0643a" fill-opacity="0.62"/>
<circle cx="207.90" cy="425.50" r="2.0" fill="#f0643a" fill-opacity="0.62"/>
<circle cx="105.50" cy="377.12" r="2.0" fill="#f0643a" fill-opacity="0.62"/>
<circle cx="207.90" cy="404.23" r="2.0" fill="#f0643a" fill-opacity="0.62"/>
<circle cx="105.50" cy="377.73" r="2.0" fill="#f0643a" fill-opacity="0.62"/>
<circle cx="207.90" cy="409.63" r="2.0" fill="#f0643a" fill-opacity="0.62"/>
<circle cx="105.50" cy="379.22" r="2.0" fill="#f0643a" fill-opacity="0.62"/>
<circle cx="207.90" cy="408.44" r="2.0" fill="#f0643a" fill-opacity="0.62"/>
<circle cx="105.50" cy="380.09" r="2.0" fill="#f0643a" fill-opacity="0.62"/>
<circle cx="207.90" cy="395.35" r="2.0" fill="#f0643a" fill-opacity="0.62"/>
<circle cx="105.50" cy="380.20" r="2.0" fill="#f0643a" fill-opacity="0.62"/>
<circle cx="207.90" cy="414.60" r="2.0" fill="#f0643a" fill-opacity="0.62"/>
<circle cx="105.50" cy="381.35" r="2.0" fill="#f0643a" fill-opacity="0.62"/>
<circle cx="207.90" cy="407.74" r="2.0" fill="#f0643a" fill-opacity="0.62"/>
<circle cx="105.50" cy="381.82" r="2.0" fill="#f0643a" fill-opacity="0.62"/>
<circle cx="207.90" cy="400.81" r="2.0" fill="#f0643a" fill-opacity="0.62"/>
<circle cx="105.50" cy="383.20" r="2.0" fill="#f0643a" fill-opacity="0.62"/>
<circle cx="207.90" cy="395.83" r="2.0" fill="#f0643a" fill-opacity="0.62"/>
<circle cx="105.50" cy="384.03" r="2.0" fill="#f0643a" fill-opacity="0.62"/>
<circle cx="207.90" cy="431.10" r="2.0" fill="#f0643a" fill-opacity="0.62"/>
<circle cx="105.50" cy="384.32" r="2.0" fill="#f0643a" fill-opacity="0.62"/>
<circle cx="207.90" cy="405.68" r="2.0" fill="#f0643a" fill-opacity="0.62"/>
<circle cx="105.50" cy="386.30" r="2.0" fill="#f0643a" fill-opacity="0.62"/>
<circle cx="207.90" cy="420.40" r="2.0" fill="#f0643a" fill-opacity="0.62"/>
<circle cx="105.50" cy="386.88" r="2.0" fill="#f0643a" fill-opacity="0.62"/>
<circle cx="207.90" cy="439.00" r="2.0" fill="#f0643a" fill-opacity="0.62"/>
<circle cx="105.50" cy="388.20" r="2.0" fill="#f0643a" fill-opacity="0.62"/>
<circle cx="207.90" cy="423.30" r="2.0" fill="#f0643a" fill-opacity="0.62"/>
<circle cx="105.50" cy="390.00" r="2.0" fill="#f0643a" fill-opacity="0.62"/>
<circle cx="207.90" cy="440.80" r="2.0" fill="#f0643a" fill-opacity="0.62"/>
<circle cx="105.50" cy="392.60" r="2.0" fill="#f0643a" fill-opacity="0.62"/>
<circle cx="207.90" cy="404.74" r="2.0" fill="#f0643a" fill-opacity="0.62"/>
<circle cx="105.50" cy="396.90" r="2.0" fill="#f0643a" fill-opacity="0.62"/>
<circle cx="207.90" cy="433.00" r="2.0" fill="#f0643a" fill-opacity="0.62"/>
<circle cx="105.50" cy="397.50" r="2.0" fill="#f0643a" fill-opacity="0.62"/>
<circle cx="207.90" cy="407.62" r="2.0" fill="#f0643a" fill-opacity="0.62"/>
<circle cx="105.50" cy="400.60" r="2.0" fill="#f0643a" fill-opacity="0.62"/>
<circle cx="207.90" cy="444.50" r="2.0" fill="#f0643a" fill-opacity="0.62"/>
<circle cx="105.50" cy="402.30" r="2.0" fill="#f0643a" fill-opacity="0.62"/>
<circle cx="207.90" cy="442.70" r="2.0" fill="#f0643a" fill-opacity="0.62"/>
<circle cx="105.50" cy="405.30" r="2.0" fill="#f0643a" fill-opacity="0.62"/>
<circle cx="207.90" cy="399.30" r="2.0" fill="#f0643a" fill-opacity="0.62"/>
<circle cx="105.50" cy="408.80" r="2.0" fill="#f0643a" fill-opacity="0.62"/>
<circle cx="207.90" cy="399.69" r="2.0" fill="#f0643a" fill-opacity="0.62"/>
<circle cx="105.50" cy="414.00" r="2.0" fill="#f0643a" fill-opacity="0.62"/>
<circle cx="207.90" cy="402.50" r="2.0" fill="#f0643a" fill-opacity="0.62"/>
<circle cx="105.50" cy="422.20" r="2.0" fill="#f0643a" fill-opacity="0.62"/>
<circle cx="207.90" cy="445.70" r="2.0" fill="#f0643a" fill-opacity="0.62"/>
<circle cx="105.50" cy="458.50" r="2.0" fill="#f0643a" fill-opacity="0.62"/>
<circle cx="207.90" cy="436.90" r="2.0" fill="#f0643a" fill-opacity="0.62"/>
<circle cx="105.50" cy="328.20" r="2.0" fill="#f0643a" fill-opacity="0.62"/>
<circle cx="207.90" cy="417.50" r="2.0" fill="#f0643a" fill-opacity="0.62"/>
<circle cx="105.50" cy="385.42" r="2.0" fill="#f0643a" fill-opacity="0.62"/>
<circle cx="207.90" cy="375.20" r="2.0" fill="#f0643a" fill-opacity="0.62"/>
<circle cx="105.50" cy="329.50" r="2.0" fill="#f0643a" fill-opacity="0.62"/>
<circle cx="207.90" cy="412.60" r="2.0" fill="#f0643a" fill-opacity="0.62"/>
<line x1="105.50" y1="337.30" x2="207.90" y2="393.20" stroke="#ee1c24" stroke-width="1.5" stroke-dasharray="1.55 1.1"/>
<line x1="105.50" y1="339.00" x2="207.90" y2="400.16" stroke="#ee1c24" stroke-width="1.5" stroke-dasharray="1.55 1.1"/>
<line x1="105.50" y1="345.90" x2="207.90" y2="398.29" stroke="#ee1c24" stroke-width="1.5" stroke-dasharray="1.55 1.1"/>
<line x1="105.50" y1="347.70" x2="207.90" y2="403.25" stroke="#ee1c24" stroke-width="1.5" stroke-dasharray="1.55 1.1"/>
<line x1="105.50" y1="352.80" x2="207.90" y2="403.64" stroke="#ee1c24" stroke-width="1.5" stroke-dasharray="1.55 1.1"/>
<line x1="105.50" y1="355.40" x2="207.90" y2="389.30" stroke="#ee1c24" stroke-width="1.5" stroke-dasharray="1.55 1.1"/>
<line x1="105.50" y1="358.00" x2="207.90" y2="387.40" stroke="#ee1c24" stroke-width="1.5" stroke-dasharray="1.55 1.1"/>
<line x1="105.50" y1="360.25" x2="207.90" y2="409.30" stroke="#ee1c24" stroke-width="1.5" stroke-dasharray="1.55 1.1"/>
<line x1="105.50" y1="361.29" x2="207.90" y2="397.62" stroke="#ee1c24" stroke-width="1.5" stroke-dasharray="1.55 1.1"/>
<line x1="105.50" y1="361.93" x2="207.90" y2="397.34" stroke="#ee1c24" stroke-width="1.5" stroke-dasharray="1.55 1.1"/>
<line x1="105.50" y1="362.32" x2="207.90" y2="427.20" stroke="#ee1c24" stroke-width="1.5" stroke-dasharray="1.55 1.1"/>
<line x1="105.50" y1="363.43" x2="207.90" y2="401.17" stroke="#ee1c24" stroke-width="1.5" stroke-dasharray="1.55 1.1"/>
<line x1="105.50" y1="370.10" x2="207.90" y2="410.18" stroke="#ee1c24" stroke-width="1.5" stroke-dasharray="1.55 1.1"/>
<line x1="105.50" y1="371.90" x2="207.90" y2="401.83" stroke="#ee1c24" stroke-width="1.5" stroke-dasharray="1.55 1.1"/>
<line x1="105.50" y1="373.62" x2="207.90" y2="406.04" stroke="#ee1c24" stroke-width="1.5" stroke-dasharray="1.55 1.1"/>
<line x1="105.50" y1="375.18" x2="207.90" y2="396.62" stroke="#ee1c24" stroke-width="1.5" stroke-dasharray="1.55 1.1"/>
<line x1="105.50" y1="375.95" x2="207.90" y2="407.04" stroke="#ee1c24" stroke-width="1.5" stroke-dasharray="1.55 1.1"/>
<line x1="105.50" y1="376.73" x2="207.90" y2="425.50" stroke="#ee1c24" stroke-width="1.5" stroke-dasharray="1.55 1.1"/>
<line x1="105.50" y1="377.12" x2="207.90" y2="404.23" stroke="#ee1c24" stroke-width="1.5" stroke-dasharray="1.55 1.1"/>
<line x1="105.50" y1="377.73" x2="207.90" y2="409.63" stroke="#ee1c24" stroke-width="1.5" stroke-dasharray="1.55 1.1"/>
<line x1="105.50" y1="379.22" x2="207.90" y2="408.44" stroke="#ee1c24" stroke-width="1.5" stroke-dasharray="1.55 1.1"/>
<line x1="105.50" y1="380.09" x2="207.90" y2="395.35" stroke="#ee1c24" stroke-width="1.5" stroke-dasharray="1.55 1.1"/>
<line x1="105.50" y1="380.20" x2="207.90" y2="414.60" stroke="#ee1c24" stroke-width="1.5" stroke-dasharray="1.55 1.1"/>
<line x1="105.50" y1="381.35" x2="207.90" y2="407.74" stroke="#ee1c24" stroke-width="1.5" stroke-dasharray="1.55 1.1"/>
<line x1="105.50" y1="381.82" x2="207.90" y2="400.81" stroke="#ee1c24" stroke-width="1.5" stroke-dasharray="1.55 1.1"/>
<line x1="105.50" y1="383.20" x2="207.90" y2="395.83" stroke="#ee1c24" stroke-width="1.5" stroke-dasharray="1.55 1.1"/>
<line x1="105.50" y1="384.03" x2="207.90" y2="431.10" stroke="#ee1c24" stroke-width="1.5" stroke-dasharray="1.55 1.1"/>
<line x1="105.50" y1="384.32" x2="207.90" y2="405.68" stroke="#ee1c24" stroke-width="1.5" stroke-dasharray="1.55 1.1"/>
<line x1="105.50" y1="386.30" x2="207.90" y2="420.40" stroke="#ee1c24" stroke-width="1.5" stroke-dasharray="1.55 1.1"/>
<line x1="105.50" y1="386.88" x2="207.90" y2="439.00" stroke="#ee1c24" stroke-width="1.5" stroke-dasharray="1.55 1.1"/>
<line x1="105.50" y1="388.20" x2="207.90" y2="423.30" stroke="#ee1c24" stroke-width="1.5" stroke-dasharray="1.55 1.1"/>
<line x1="105.50" y1="390.00" x2="207.90" y2="440.80" stroke="#ee1c24" stroke-width="1.5" stroke-dasharray="1.55 1.1"/>
<line x1="105.50" y1="392.60" x2="207.90" y2="404.74" stroke="#ee1c24" stroke-width="1.5" stroke-dasharray="1.55 1.1"/>
<line x1="105.50" y1="396.90" x2="207.90" y2="433.00" stroke="#ee1c24" stroke-width="1.5" stroke-dasharray="1.55 1.1"/>
<line x1="105.50" y1="397.50" x2="207.90" y2="407.62" stroke="#ee1c24" stroke-width="1.5" stroke-dasharray="1.55 1.1"/>
<line x1="105.50" y1="400.60" x2="207.90" y2="444.50" stroke="#ee1c24" stroke-width="1.5" stroke-dasharray="1.55 1.1"/>
<line x1="105.50" y1="402.30" x2="207.90" y2="442.70" stroke="#ee1c24" stroke-width="1.5" stroke-dasharray="1.55 1.1"/>
<line x1="105.50" y1="405.30" x2="207.90" y2="399.30" stroke="#ee1c24" stroke-width="1.5" stroke-dasharray="1.55 1.1"/>
<line x1="105.50" y1="408.80" x2="207.90" y2="399.69" stroke="#ee1c24" stroke-width="1.5" stroke-dasharray="1.55 1.1"/>
<line x1="105.50" y1="414.00" x2="207.90" y2="402.50" stroke="#ee1c24" stroke-width="1.5" stroke-dasharray="1.55 1.1"/>
<line x1="105.50" y1="422.20" x2="207.90" y2="445.70" stroke="#ee1c24" stroke-width="1.5" stroke-dasharray="1.55 1.1"/>
<line x1="105.50" y1="458.50" x2="207.90" y2="436.90" stroke="#ee1c24" stroke-width="1.5" stroke-dasharray="1.55 1.1"/>
<line x1="105.50" y1="328.20" x2="207.90" y2="417.50" stroke="#ee1c24" stroke-width="1.5" stroke-dasharray="1.55 1.1"/>
<line x1="105.50" y1="385.42" x2="207.90" y2="375.20" stroke="#ee1c24" stroke-width="1.5" stroke-dasharray="1.55 1.1"/>
<line x1="105.50" y1="329.50" x2="207.90" y2="412.60" stroke="#ee1c24" stroke-width="1.5" stroke-dasharray="1.55 1.1"/>
<text x="15.30" y="393.60" font-size="11.8" text-anchor="end" fill="#1a1a1a" textLength="9.4" lengthAdjust="spacingAndGlyphs">PI</text>
<text x="135.90" y="341.90" font-size="12" text-anchor="start" fill="#000" textLength="55.0" lengthAdjust="spacingAndGlyphs">p &lt; 0.0001</text>
<text x="105.35" y="478.10" font-size="12.4" text-anchor="middle" fill="#2a2a2a" textLength="45.1" lengthAdjust="spacingAndGlyphs">Baseline</text>
<text x="207.35" y="478.10" font-size="12.4" text-anchor="middle" fill="#2a2a2a" textLength="54.7" lengthAdjust="spacingAndGlyphs">After Enza</text>
<line x1="52.00" y1="583.70" x2="52.00" y2="721.75" stroke="#1a1a1a" stroke-width="1.5"/>
<line x1="51.25" y1="721.00" x2="293.40" y2="721.00" stroke="#1a1a1a" stroke-width="1.5"/>
<line x1="49.80" y1="601.20" x2="52.00" y2="601.20" stroke="#4d4d4d" stroke-width="0.9"/>
<text x="48.60" y="604.20" font-size="8.5" text-anchor="end" fill="#4d4d4d">2</text>
<line x1="49.80" y1="624.00" x2="52.00" y2="624.00" stroke="#4d4d4d" stroke-width="0.9"/>
<text x="48.60" y="627.00" font-size="8.5" text-anchor="end" fill="#4d4d4d">1</text>
<line x1="49.80" y1="646.80" x2="52.00" y2="646.80" stroke="#4d4d4d" stroke-width="0.9"/>
<text x="48.60" y="649.80" font-size="8.5" text-anchor="end" fill="#4d4d4d">0</text>
<line x1="49.80" y1="669.60" x2="52.00" y2="669.60" stroke="#4d4d4d" stroke-width="0.9"/>
<text x="48.60" y="672.60" font-size="8.5" text-anchor="end" fill="#4d4d4d">1</text>
<line x1="49.80" y1="692.40" x2="52.00" y2="692.40" stroke="#4d4d4d" stroke-width="0.9"/>
<text x="48.60" y="695.40" font-size="8.5" text-anchor="end" fill="#4d4d4d">2</text>
<line x1="49.80" y1="715.20" x2="52.00" y2="715.20" stroke="#4d4d4d" stroke-width="0.9"/>
<text x="48.60" y="718.20" font-size="8.5" text-anchor="end" fill="#4d4d4d">3</text>
<line x1="117.70" y1="721.00" x2="117.70" y2="723.20" stroke="#4d4d4d" stroke-width="0.9"/>
<line x1="227.70" y1="721.00" x2="227.70" y2="723.20" stroke="#4d4d4d" stroke-width="0.9"/>
<line x1="117.70" y1="597.00" x2="117.70" y2="626.70" stroke="#333333" stroke-width="1.3"/>
<line x1="117.70" y1="649.70" x2="117.70" y2="683.60" stroke="#333333" stroke-width="1.3"/>
<rect x="76.50" y="626.70" width="82.70" height="23.00" fill="none" stroke="#333333" stroke-width="1.4"/>
<line x1="76.50" y1="640.20" x2="159.20" y2="640.20" stroke="#333333" stroke-width="2.8"/>
<line x1="227.70" y1="612.80" x2="227.70" y2="640.70" stroke="#333333" stroke-width="1.3"/>
<line x1="227.70" y1="665.40" x2="227.70" y2="702.60" stroke="#333333" stroke-width="1.3"/>
<rect x="186.10" y="640.70" width="83.20" height="24.70" fill="none" stroke="#333333" stroke-width="1.4"/>
<line x1="186.10" y1="650.50" x2="269.30" y2="650.50" stroke="#333333" stroke-width="2.8"/>
<circle cx="117.70" cy="589.20" r="1.6" fill="#000" fill-opacity="1"/>
<circle cx="117.70" cy="691.20" r="1.6" fill="#000" fill-opacity="1"/>
<circle cx="117.70" cy="703.60" r="1.6" fill="#000" fill-opacity="1"/>
<circle cx="117.70" cy="715.00" r="1.6" fill="#000" fill-opacity="1"/>
<circle cx="117.70" cy="619.00" r="2.0" fill="#f0643a" fill-opacity="0.62"/>
<circle cx="227.70" cy="644.46" r="2.0" fill="#f0643a" fill-opacity="0.62"/>
<circle cx="117.70" cy="620.70" r="2.0" fill="#f0643a" fill-opacity="0.62"/>
<circle cx="227.70" cy="634.50" r="2.0" fill="#f0643a" fill-opacity="0.62"/>
<circle cx="117.70" cy="623.77" r="2.0" fill="#f0643a" fill-opacity="0.62"/>
<circle cx="227.70" cy="648.34" r="2.0" fill="#f0643a" fill-opacity="0.62"/>
<circle cx="117.70" cy="624.29" r="2.0" fill="#f0643a" fill-opacity="0.62"/>
<circle cx="227.70" cy="640.16" r="2.0" fill="#f0643a" fill-opacity="0.62"/>
<circle cx="117.70" cy="625.02" r="2.0" fill="#f0643a" fill-opacity="0.62"/>
<circle cx="227.70" cy="630.00" r="2.0" fill="#f0643a" fill-opacity="0.62"/>
<circle cx="117.70" cy="626.10" r="2.0" fill="#f0643a" fill-opacity="0.62"/>
<circle cx="227.70" cy="649.15" r="2.0" fill="#f0643a" fill-opacity="0.62"/>
<circle cx="117.70" cy="626.93" r="2.0" fill="#f0643a" fill-opacity="0.62"/>
<circle cx="227.70" cy="683.40" r="2.0" fill="#f0643a" fill-opacity="0.62"/>
<circle cx="117.70" cy="627.25" r="2.0" fill="#f0643a" fill-opacity="0.62"/>
<circle cx="227.70" cy="658.65" r="2.0" fill="#f0643a" fill-opacity="0.62"/>
<circle cx="117.70" cy="627.99" r="2.0" fill="#f0643a" fill-opacity="0.62"/>
<circle cx="227.70" cy="656.64" r="2.0" fill="#f0643a" fill-opacity="0.62"/>
<circle cx="117.70" cy="629.08" r="2.0" fill="#f0643a" fill-opacity="0.62"/>
<circle cx="227.70" cy="643.20" r="2.0" fill="#f0643a" fill-opacity="0.62"/>
<circle cx="117.70" cy="629.89" r="2.0" fill="#f0643a" fill-opacity="0.62"/>
<circle cx="227.70" cy="651.73" r="2.0" fill="#f0643a" fill-opacity="0.62"/>
<circle cx="117.70" cy="630.75" r="2.0" fill="#f0643a" fill-opacity="0.62"/>
<circle cx="227.70" cy="646.39" r="2.0" fill="#f0643a" fill-opacity="0.62"/>
<circle cx="117.70" cy="631.78" r="2.0" fill="#f0643a" fill-opacity="0.62"/>
<circle cx="227.70" cy="640.73" r="2.0" fill="#f0643a" fill-opacity="0.62"/>
<circle cx="117.70" cy="632.55" r="2.0" fill="#f0643a" fill-opacity="0.62"/>
<circle cx="227.70" cy="632.30" r="2.0" fill="#f0643a" fill-opacity="0.62"/>
<circle cx="117.70" cy="633.62" r="2.0" fill="#f0643a" fill-opacity="0.62"/>
<circle cx="227.70" cy="642.17" r="2.0" fill="#f0643a" fill-opacity="0.62"/>
<circle cx="117.70" cy="633.72" r="2.0" fill="#f0643a" fill-opacity="0.62"/>
<circle cx="227.70" cy="678.30" r="2.0" fill="#f0643a" fill-opacity="0.62"/>
<circle cx="117.70" cy="634.78" r="2.0" fill="#f0643a" fill-opacity="0.62"/>
<circle cx="227.70" cy="660.16" r="2.0" fill="#f0643a" fill-opacity="0.62"/>
<circle cx="117.70" cy="635.55" r="2.0" fill="#f0643a" fill-opacity="0.62"/>
<circle cx="227.70" cy="658.42" r="2.0" fill="#f0643a" fill-opacity="0.62"/>
<circle cx="117.70" cy="636.80" r="2.0" fill="#f0643a" fill-opacity="0.62"/>
<circle cx="227.70" cy="657.36" r="2.0" fill="#f0643a" fill-opacity="0.62"/>
<circle cx="117.70" cy="637.11" r="2.0" fill="#f0643a" fill-opacity="0.62"/>
<circle cx="227.70" cy="641.66" r="2.0" fill="#f0643a" fill-opacity="0.62"/>
<circle cx="117.70" cy="637.88" r="2.0" fill="#f0643a" fill-opacity="0.62"/>
<circle cx="227.70" cy="647.14" r="2.0" fill="#f0643a" fill-opacity="0.62"/>
<circle cx="117.70" cy="638.91" r="2.0" fill="#f0643a" fill-opacity="0.62"/>
<circle cx="227.70" cy="653.51" r="2.0" fill="#f0643a" fill-opacity="0.62"/>
<circle cx="117.70" cy="639.71" r="2.0" fill="#f0643a" fill-opacity="0.62"/>
<circle cx="227.70" cy="655.45" r="2.0" fill="#f0643a" fill-opacity="0.62"/>
<circle cx="117.70" cy="640.41" r="2.0" fill="#f0643a" fill-opacity="0.62"/>
<circle cx="227.70" cy="662.12" r="2.0" fill="#f0643a" fill-opacity="0.62"/>
<circle cx="117.70" cy="641.20" r="2.0" fill="#f0643a" fill-opacity="0.62"/>
<circle cx="227.70" cy="662.97" r="2.0" fill="#f0643a" fill-opacity="0.62"/>
<circle cx="117.70" cy="642.57" r="2.0" fill="#f0643a" fill-opacity="0.62"/>
<circle cx="227.70" cy="627.70" r="2.0" fill="#f0643a" fill-opacity="0.62"/>
<circle cx="117.70" cy="643.00" r="2.0" fill="#f0643a" fill-opacity="0.62"/>
<circle cx="227.70" cy="653.04" r="2.0" fill="#f0643a" fill-opacity="0.62"/>
<circle cx="117.70" cy="644.16" r="2.0" fill="#f0643a" fill-opacity="0.62"/>
<circle cx="227.70" cy="654.27" r="2.0" fill="#f0643a" fill-opacity="0.62"/>
<circle cx="117.70" cy="644.72" r="2.0" fill="#f0643a" fill-opacity="0.62"/>
<circle cx="227.70" cy="650.50" r="2.0" fill="#f0643a" fill-opacity="0.62"/>
<circle cx="117.70" cy="645.13" r="2.0" fill="#f0643a" fill-opacity="0.62"/>
<circle cx="227.70" cy="639.13" r="2.0" fill="#f0643a" fill-opacity="0.62"/>
<circle cx="117.70" cy="646.73" r="2.0" fill="#f0643a" fill-opacity="0.62"/>
<circle cx="227.70" cy="649.59" r="2.0" fill="#f0643a" fill-opacity="0.62"/>
<circle cx="117.70" cy="647.41" r="2.0" fill="#f0643a" fill-opacity="0.62"/>
<circle cx="227.70" cy="624.90" r="2.0" fill="#f0643a" fill-opacity="0.62"/>
<circle cx="117.70" cy="648.34" r="2.0" fill="#f0643a" fill-opacity="0.62"/>
<circle cx="227.70" cy="666.90" r="2.0" fill="#f0643a" fill-opacity="0.62"/>
<circle cx="117.70" cy="649.12" r="2.0" fill="#f0643a" fill-opacity="0.62"/>
<circle cx="227.70" cy="661.02" r="2.0" fill="#f0643a" fill-opacity="0.62"/>
<circle cx="117.70" cy="649.88" r="2.0" fill="#f0643a" fill-opacity="0.62"/>
<circle cx="227.70" cy="650.84" r="2.0" fill="#f0643a" fill-opacity="0.62"/>
<circle cx="117.70" cy="656.40" r="2.0" fill="#f0643a" fill-opacity="0.62"/>
<circle cx="227.70" cy="645.86" r="2.0" fill="#f0643a" fill-opacity="0.62"/>
<circle cx="117.70" cy="658.80" r="2.0" fill="#f0643a" fill-opacity="0.62"/>
<circle cx="227.70" cy="663.40" r="2.0" fill="#f0643a" fill-opacity="0.62"/>
<circle cx="117.70" cy="589.20" r="2.0" fill="#f0643a" fill-opacity="0.62"/>
<circle cx="227.70" cy="675.50" r="2.0" fill="#f0643a" fill-opacity="0.62"/>
<circle cx="117.70" cy="596.40" r="2.0" fill="#f0643a" fill-opacity="0.62"/>
<circle cx="227.70" cy="681.10" r="2.0" fill="#f0643a" fill-opacity="0.62"/>
<circle cx="117.70" cy="600.00" r="2.0" fill="#f0643a" fill-opacity="0.62"/>
<circle cx="227.70" cy="669.80" r="2.0" fill="#f0643a" fill-opacity="0.62"/>
<circle cx="117.70" cy="602.00" r="2.0" fill="#f0643a" fill-opacity="0.62"/>
<circle cx="227.70" cy="698.20" r="2.0" fill="#f0643a" fill-opacity="0.62"/>
<circle cx="117.70" cy="606.20" r="2.0" fill="#f0643a" fill-opacity="0.62"/>
<circle cx="227.70" cy="673.20" r="2.0" fill="#f0643a" fill-opacity="0.62"/>
<circle cx="117.70" cy="703.60" r="2.0" fill="#f0643a" fill-opacity="0.62"/>
<circle cx="227.70" cy="702.70" r="2.0" fill="#f0643a" fill-opacity="0.62"/>
<circle cx="117.70" cy="715.00" r="2.0" fill="#f0643a" fill-opacity="0.62"/>
<circle cx="227.70" cy="660.06" r="2.0" fill="#f0643a" fill-opacity="0.62"/>
<circle cx="117.70" cy="691.20" r="2.0" fill="#f0643a" fill-opacity="0.62"/>
<circle cx="227.70" cy="655.21" r="2.0" fill="#f0643a" fill-opacity="0.62"/>
<circle cx="117.70" cy="683.70" r="2.0" fill="#f0643a" fill-opacity="0.62"/>
<circle cx="227.70" cy="644.68" r="2.0" fill="#f0643a" fill-opacity="0.62"/>
<circle cx="117.70" cy="674.20" r="2.0" fill="#f0643a" fill-opacity="0.62"/>
<circle cx="227.70" cy="636.80" r="2.0" fill="#f0643a" fill-opacity="0.62"/>
<circle cx="117.70" cy="661.80" r="2.0" fill="#f0643a" fill-opacity="0.62"/>
<circle cx="227.70" cy="614.10" r="2.0" fill="#f0643a" fill-opacity="0.62"/>
<circle cx="117.70" cy="653.30" r="2.0" fill="#f0643a" fill-opacity="0.62"/>
<circle cx="227.70" cy="612.40" r="2.0" fill="#f0643a" fill-opacity="0.62"/>
<line x1="117.70" y1="619.00" x2="227.70" y2="644.46" stroke="#ee1c24" stroke-width="1.5" stroke-dasharray="1.55 1.1"/>
<line x1="117.70" y1="620.70" x2="227.70" y2="634.50" stroke="#ee1c24" stroke-width="1.5" stroke-dasharray="1.55 1.1"/>
<line x1="117.70" y1="623.77" x2="227.70" y2="648.34" stroke="#ee1c24" stroke-width="1.5" stroke-dasharray="1.55 1.1"/>
<line x1="117.70" y1="624.29" x2="227.70" y2="640.16" stroke="#ee1c24" stroke-width="1.5" stroke-dasharray="1.55 1.1"/>
<line x1="117.70" y1="625.02" x2="227.70" y2="630.00" stroke="#ee1c24" stroke-width="1.5" stroke-dasharray="1.55 1.1"/>
<line x1="117.70" y1="626.10" x2="227.70" y2="649.15" stroke="#ee1c24" stroke-width="1.5" stroke-dasharray="1.55 1.1"/>
<line x1="117.70" y1="626.93" x2="227.70" y2="683.40" stroke="#ee1c24" stroke-width="1.5" stroke-dasharray="1.55 1.1"/>
<line x1="117.70" y1="627.25" x2="227.70" y2="658.65" stroke="#ee1c24" stroke-width="1.5" stroke-dasharray="1.55 1.1"/>
<line x1="117.70" y1="627.99" x2="227.70" y2="656.64" stroke="#ee1c24" stroke-width="1.5" stroke-dasharray="1.55 1.1"/>
<line x1="117.70" y1="629.08" x2="227.70" y2="643.20" stroke="#ee1c24" stroke-width="1.5" stroke-dasharray="1.55 1.1"/>
<line x1="117.70" y1="629.89" x2="227.70" y2="651.73" stroke="#ee1c24" stroke-width="1.5" stroke-dasharray="1.55 1.1"/>
<line x1="117.70" y1="630.75" x2="227.70" y2="646.39" stroke="#ee1c24" stroke-width="1.5" stroke-dasharray="1.55 1.1"/>
<line x1="117.70" y1="631.78" x2="227.70" y2="640.73" stroke="#ee1c24" stroke-width="1.5" stroke-dasharray="1.55 1.1"/>
<line x1="117.70" y1="632.55" x2="227.70" y2="632.30" stroke="#ee1c24" stroke-width="1.5" stroke-dasharray="1.55 1.1"/>
<line x1="117.70" y1="633.62" x2="227.70" y2="642.17" stroke="#ee1c24" stroke-width="1.5" stroke-dasharray="1.55 1.1"/>
<line x1="117.70" y1="633.72" x2="227.70" y2="678.30" stroke="#ee1c24" stroke-width="1.5" stroke-dasharray="1.55 1.1"/>
<line x1="117.70" y1="634.78" x2="227.70" y2="660.16" stroke="#ee1c24" stroke-width="1.5" stroke-dasharray="1.55 1.1"/>
<line x1="117.70" y1="635.55" x2="227.70" y2="658.42" stroke="#ee1c24" stroke-width="1.5" stroke-dasharray="1.55 1.1"/>
<line x1="117.70" y1="636.80" x2="227.70" y2="657.36" stroke="#ee1c24" stroke-width="1.5" stroke-dasharray="1.55 1.1"/>
<line x1="117.70" y1="637.11" x2="227.70" y2="641.66" stroke="#ee1c24" stroke-width="1.5" stroke-dasharray="1.55 1.1"/>
<line x1="117.70" y1="637.88" x2="227.70" y2="647.14" stroke="#ee1c24" stroke-width="1.5" stroke-dasharray="1.55 1.1"/>
<line x1="117.70" y1="638.91" x2="227.70" y2="653.51" stroke="#ee1c24" stroke-width="1.5" stroke-dasharray="1.55 1.1"/>
<line x1="117.70" y1="639.71" x2="227.70" y2="655.45" stroke="#ee1c24" stroke-width="1.5" stroke-dasharray="1.55 1.1"/>
<line x1="117.70" y1="640.41" x2="227.70" y2="662.12" stroke="#ee1c24" stroke-width="1.5" stroke-dasharray="1.55 1.1"/>
<line x1="117.70" y1="641.20" x2="227.70" y2="662.97" stroke="#ee1c24" stroke-width="1.5" stroke-dasharray="1.55 1.1"/>
<line x1="117.70" y1="642.57" x2="227.70" y2="627.70" stroke="#ee1c24" stroke-width="1.5" stroke-dasharray="1.55 1.1"/>
<line x1="117.70" y1="643.00" x2="227.70" y2="653.04" stroke="#ee1c24" stroke-width="1.5" stroke-dasharray="1.55 1.1"/>
<line x1="117.70" y1="644.16" x2="227.70" y2="654.27" stroke="#ee1c24" stroke-width="1.5" stroke-dasharray="1.55 1.1"/>
<line x1="117.70" y1="644.72" x2="227.70" y2="650.50" stroke="#ee1c24" stroke-width="1.5" stroke-dasharray="1.55 1.1"/>
<line x1="117.70" y1="645.13" x2="227.70" y2="639.13" stroke="#ee1c24" stroke-width="1.5" stroke-dasharray="1.55 1.1"/>
<line x1="117.70" y1="646.73" x2="227.70" y2="649.59" stroke="#ee1c24" stroke-width="1.5" stroke-dasharray="1.55 1.1"/>
<line x1="117.70" y1="647.41" x2="227.70" y2="624.90" stroke="#ee1c24" stroke-width="1.5" stroke-dasharray="1.55 1.1"/>
<line x1="117.70" y1="648.34" x2="227.70" y2="666.90" stroke="#ee1c24" stroke-width="1.5" stroke-dasharray="1.55 1.1"/>
<line x1="117.70" y1="649.12" x2="227.70" y2="661.02" stroke="#ee1c24" stroke-width="1.5" stroke-dasharray="1.55 1.1"/>
<line x1="117.70" y1="649.88" x2="227.70" y2="650.84" stroke="#ee1c24" stroke-width="1.5" stroke-dasharray="1.55 1.1"/>
<line x1="117.70" y1="656.40" x2="227.70" y2="645.86" stroke="#ee1c24" stroke-width="1.5" stroke-dasharray="1.55 1.1"/>
<line x1="117.70" y1="658.80" x2="227.70" y2="663.40" stroke="#ee1c24" stroke-width="1.5" stroke-dasharray="1.55 1.1"/>
<line x1="117.70" y1="589.20" x2="227.70" y2="675.50" stroke="#ee1c24" stroke-width="1.5" stroke-dasharray="1.55 1.1"/>
<line x1="117.70" y1="596.40" x2="227.70" y2="681.10" stroke="#ee1c24" stroke-width="1.5" stroke-dasharray="1.55 1.1"/>
<line x1="117.70" y1="600.00" x2="227.70" y2="669.80" stroke="#ee1c24" stroke-width="1.5" stroke-dasharray="1.55 1.1"/>
<line x1="117.70" y1="602.00" x2="227.70" y2="698.20" stroke="#ee1c24" stroke-width="1.5" stroke-dasharray="1.55 1.1"/>
<line x1="117.70" y1="606.20" x2="227.70" y2="673.20" stroke="#ee1c24" stroke-width="1.5" stroke-dasharray="1.55 1.1"/>
<line x1="117.70" y1="703.60" x2="227.70" y2="702.70" stroke="#ee1c24" stroke-width="1.5" stroke-dasharray="1.55 1.1"/>
<line x1="117.70" y1="715.00" x2="227.70" y2="660.06" stroke="#ee1c24" stroke-width="1.5" stroke-dasharray="1.55 1.1"/>
<line x1="117.70" y1="691.20" x2="227.70" y2="655.21" stroke="#ee1c24" stroke-width="1.5" stroke-dasharray="1.55 1.1"/>
<line x1="117.70" y1="683.70" x2="227.70" y2="644.68" stroke="#ee1c24" stroke-width="1.5" stroke-dasharray="1.55 1.1"/>
<line x1="117.70" y1="674.20" x2="227.70" y2="636.80" stroke="#ee1c24" stroke-width="1.5" stroke-dasharray="1.55 1.1"/>
<line x1="117.70" y1="661.80" x2="227.70" y2="614.10" stroke="#ee1c24" stroke-width="1.5" stroke-dasharray="1.55 1.1"/>
<line x1="117.70" y1="653.30" x2="227.70" y2="612.40" stroke="#ee1c24" stroke-width="1.5" stroke-dasharray="1.55 1.1"/>
<text x="-0.30" y="661.60" font-size="14.3" text-anchor="start" fill="#000" textLength="23.1" lengthAdjust="spacingAndGlyphs">Cer</text>
<text x="151.90" y="598.20" font-size="12" text-anchor="start" fill="#000" textLength="49.8" lengthAdjust="spacingAndGlyphs">p = 0.014</text>
<line x1="52.00" y1="735.70" x2="52.00" y2="874.15" stroke="#1a1a1a" stroke-width="1.5"/>
<line x1="51.25" y1="873.40" x2="293.40" y2="873.40" stroke="#1a1a1a" stroke-width="1.5"/>
<line x1="49.80" y1="759.40" x2="52.00" y2="759.40" stroke="#4d4d4d" stroke-width="0.9"/>
<text x="48.60" y="762.40" font-size="8.5" text-anchor="end" fill="#4d4d4d">1</text>
<line x1="49.80" y1="785.20" x2="52.00" y2="785.20" stroke="#4d4d4d" stroke-width="0.9"/>
<text x="48.60" y="788.20" font-size="8.5" text-anchor="end" fill="#4d4d4d">0</text>
<line x1="49.80" y1="811.00" x2="52.00" y2="811.00" stroke="#4d4d4d" stroke-width="0.9"/>
<text x="48.60" y="814.00" font-size="8.5" text-anchor="end" fill="#4d4d4d">1</text>
<line x1="49.80" y1="836.80" x2="52.00" y2="836.80" stroke="#4d4d4d" stroke-width="0.9"/>
<text x="48.60" y="839.80" font-size="8.5" text-anchor="end" fill="#4d4d4d">2</text>
<line x1="49.80" y1="862.60" x2="52.00" y2="862.60" stroke="#4d4d4d" stroke-width="0.9"/>
<text x="48.60" y="865.60" font-size="8.5" text-anchor="end" fill="#4d4d4d">3</text>
<line x1="117.70" y1="873.40" x2="117.70" y2="875.60" stroke="#4d4d4d" stroke-width="0.9"/>
<line x1="227.70" y1="873.40" x2="227.70" y2="875.60" stroke="#4d4d4d" stroke-width="0.9"/>
<line x1="117.70" y1="751.50" x2="117.70" y2="779.50" stroke="#333333" stroke-width="1.3"/>
<line x1="117.70" y1="815.80" x2="117.70" y2="866.50" stroke="#333333" stroke-width="1.3"/>
<rect x="76.60" y="779.50" width="82.60" height="36.30" fill="none" stroke="#333333" stroke-width="1.4"/>
<line x1="76.60" y1="798.10" x2="159.20" y2="798.10" stroke="#333333" stroke-width="2.8"/>
<line x1="227.70" y1="741.00" x2="227.70" y2="756.90" stroke="#333333" stroke-width="1.3"/>
<line x1="227.70" y1="780.80" x2="227.70" y2="806.60" stroke="#333333" stroke-width="1.3"/>
<rect x="186.10" y="756.90" width="83.20" height="23.90" fill="none" stroke="#333333" stroke-width="1.4"/>
<line x1="186.10" y1="772.00" x2="269.30" y2="772.00" stroke="#333333" stroke-width="2.8"/>
<circle cx="117.70" cy="762.30" r="2.0" fill="#f0643a" fill-opacity="0.62"/>
<circle cx="227.70" cy="760.00" r="2.0" fill="#f0643a" fill-opacity="0.62"/>
<circle cx="117.70" cy="767.00" r="2.0" fill="#f0643a" fill-opacity="0.62"/>
<circle cx="227.70" cy="764.03" r="2.0" fill="#f0643a" fill-opacity="0.62"/>
<circle cx="117.70" cy="771.70" r="2.0" fill="#f0643a" fill-opacity="0.62"/>
<circle cx="227.70" cy="770.86" r="2.0" fill="#f0643a" fill-opacity="0.62"/>
<circle cx="117.70" cy="778.40" r="2.0" fill="#f0643a" fill-opacity="0.62"/>
<circle cx="227.70" cy="774.19" r="2.0" fill="#f0643a" fill-opacity="0.62"/>
<circle cx="117.70" cy="783.10" r="2.0" fill="#f0643a" fill-opacity="0.62"/>
<circle cx="227.70" cy="766.83" r="2.0" fill="#f0643a" fill-opacity="0.62"/>
<circle cx="117.70" cy="790.22" r="2.0" fill="#f0643a" fill-opacity="0.62"/>
<circle cx="227.70" cy="775.59" r="2.0" fill="#f0643a" fill-opacity="0.62"/>
<circle cx="117.70" cy="792.01" r="2.0" fill="#f0643a" fill-opacity="0.62"/>
<circle cx="227.70" cy="741.00" r="2.0" fill="#f0643a" fill-opacity="0.62"/>
<circle cx="117.70" cy="792.37" r="2.0" fill="#f0643a" fill-opacity="0.62"/>
<circle cx="227.70" cy="757.40" r="2.0" fill="#f0643a" fill-opacity="0.62"/>
<circle cx="117.70" cy="793.73" r="2.0" fill="#f0643a" fill-opacity="0.62"/>
<circle cx="227.70" cy="777.28" r="2.0" fill="#f0643a" fill-opacity="0.62"/>
<circle cx="117.70" cy="794.77" r="2.0" fill="#f0643a" fill-opacity="0.62"/>
<circle cx="227.70" cy="769.82" r="2.0" fill="#f0643a" fill-opacity="0.62"/>
<circle cx="117.70" cy="795.57" r="2.0" fill="#f0643a" fill-opacity="0.62"/>
<circle cx="227.70" cy="776.77" r="2.0" fill="#f0643a" fill-opacity="0.62"/>
<circle cx="117.70" cy="796.75" r="2.0" fill="#f0643a" fill-opacity="0.62"/>
<circle cx="227.70" cy="743.60" r="2.0" fill="#f0643a" fill-opacity="0.62"/>
<circle cx="117.70" cy="797.70" r="2.0" fill="#f0643a" fill-opacity="0.62"/>
<circle cx="227.70" cy="763.33" r="2.0" fill="#f0643a" fill-opacity="0.62"/>
<circle cx="117.70" cy="799.12" r="2.0" fill="#f0643a" fill-opacity="0.62"/>
<circle cx="227.70" cy="748.00" r="2.0" fill="#f0643a" fill-opacity="0.62"/>
<circle cx="117.70" cy="799.40" r="2.0" fill="#f0643a" fill-opacity="0.62"/>
<circle cx="227.70" cy="769.61" r="2.0" fill="#f0643a" fill-opacity="0.62"/>
<circle cx="117.70" cy="803.20" r="2.0" fill="#f0643a" fill-opacity="0.62"/>
<circle cx="227.70" cy="771.90" r="2.0" fill="#f0643a" fill-opacity="0.62"/>
<circle cx="117.70" cy="806.24" r="2.0" fill="#f0643a" fill-opacity="0.62"/>
<circle cx="227.70" cy="746.20" r="2.0" fill="#f0643a" fill-opacity="0.62"/>
<circle cx="117.70" cy="806.71" r="2.0" fill="#f0643a" fill-opacity="0.62"/>
<circle cx="227.70" cy="755.83" r="2.0" fill="#f0643a" fill-opacity="0.62"/>
<circle cx="117.70" cy="807.76" r="2.0" fill="#f0643a" fill-opacity="0.62"/>
<circle cx="227.70" cy="761.88" r="2.0" fill="#f0643a" fill-opacity="0.62"/>
<circle cx="117.70" cy="808.90" r="2.0" fill="#f0643a" fill-opacity="0.62"/>
<circle cx="227.70" cy="793.80" r="2.0" fill="#f0643a" fill-opacity="0.62"/>
<circle cx="117.70" cy="809.47" r="2.0" fill="#f0643a" fill-opacity="0.62"/>
<circle cx="227.70" cy="780.75" r="2.0" fill="#f0643a" fill-opacity="0.62"/>
<circle cx="117.70" cy="810.38" r="2.0" fill="#f0643a" fill-opacity="0.62"/>
<circle cx="227.70" cy="756.88" r="2.0" fill="#f0643a" fill-opacity="0.62"/>
<circle cx="117.70" cy="813.30" r="2.0" fill="#f0643a" fill-opacity="0.62"/>
<circle cx="227.70" cy="782.24" r="2.0" fill="#f0643a" fill-opacity="0.62"/>
<circle cx="117.70" cy="815.70" r="2.0" fill="#f0643a" fill-opacity="0.62"/>
<circle cx="227.70" cy="758.23" r="2.0" fill="#f0643a" fill-opacity="0.62"/>
<circle cx="117.70" cy="818.83" r="2.0" fill="#f0643a" fill-opacity="0.62"/>
<circle cx="227.70" cy="778.79" r="2.0" fill="#f0643a" fill-opacity="0.62"/>
<circle cx="117.70" cy="819.14" r="2.0" fill="#f0643a" fill-opacity="0.62"/>
<circle cx="227.70" cy="760.92" r="2.0" fill="#f0643a" fill-opacity="0.62"/>
<circle cx="117.70" cy="820.48" r="2.0" fill="#f0643a" fill-opacity="0.62"/>
<circle cx="227.70" cy="752.30" r="2.0" fill="#f0643a" fill-opacity="0.62"/>
<circle cx="117.70" cy="821.97" r="2.0" fill="#f0643a" fill-opacity="0.62"/>
<circle cx="227.70" cy="796.40" r="2.0" fill="#f0643a" fill-opacity="0.62"/>
<circle cx="117.70" cy="822.93" r="2.0" fill="#f0643a" fill-opacity="0.62"/>
<circle cx="227.70" cy="764.41" r="2.0" fill="#f0643a" fill-opacity="0.62"/>
<circle cx="117.70" cy="823.00" r="2.0" fill="#f0643a" fill-opacity="0.62"/>
<circle cx="227.70" cy="766.32" r="2.0" fill="#f0643a" fill-opacity="0.62"/>
<circle cx="117.70" cy="824.11" r="2.0" fill="#f0643a" fill-opacity="0.62"/>
<circle cx="227.70" cy="805.90" r="2.0" fill="#f0643a" fill-opacity="0.62"/>
<circle cx="117.70" cy="825.12" r="2.0" fill="#f0643a" fill-opacity="0.62"/>
<circle cx="227.70" cy="800.70" r="2.0" fill="#f0643a" fill-opacity="0.62"/>
<circle cx="117.70" cy="826.74" r="2.0" fill="#f0643a" fill-opacity="0.62"/>
<circle cx="227.70" cy="773.43" r="2.0" fill="#f0643a" fill-opacity="0.62"/>
<circle cx="117.70" cy="866.60" r="2.0" fill="#f0643a" fill-opacity="0.62"/>
<circle cx="227.70" cy="790.30" r="2.0" fill="#f0643a" fill-opacity="0.62"/>
<circle cx="117.70" cy="845.80" r="2.0" fill="#f0643a" fill-opacity="0.62"/>
<circle cx="227.70" cy="783.24" r="2.0" fill="#f0643a" fill-opacity="0.62"/>
<circle cx="117.70" cy="834.40" r="2.0" fill="#f0643a" fill-opacity="0.62"/>
<circle cx="227.70" cy="779.46" r="2.0" fill="#f0643a" fill-opacity="0.62"/>
<circle cx="117.70" cy="751.80" r="2.0" fill="#f0643a" fill-opacity="0.62"/>
<circle cx="227.70" cy="768.27" r="2.0" fill="#f0643a" fill-opacity="0.62"/>
<line x1="117.70" y1="762.30" x2="227.70" y2="760.00" stroke="#ee1c24" stroke-width="1.5" stroke-dasharray="1.55 1.1"/>
<line x1="117.70" y1="767.00" x2="227.70" y2="764.03" stroke="#ee1c24" stroke-width="1.5" stroke-dasharray="1.55 1.1"/>
<line x1="117.70" y1="771.70" x2="227.70" y2="770.86" stroke="#ee1c24" stroke-width="1.5" stroke-dasharray="1.55 1.1"/>
<line x1="117.70" y1="778.40" x2="227.70" y2="774.19" stroke="#ee1c24" stroke-width="1.5" stroke-dasharray="1.55 1.1"/>
<line x1="117.70" y1="783.10" x2="227.70" y2="766.83" stroke="#ee1c24" stroke-width="1.5" stroke-dasharray="1.55 1.1"/>
<line x1="117.70" y1="790.22" x2="227.70" y2="775.59" stroke="#ee1c24" stroke-width="1.5" stroke-dasharray="1.55 1.1"/>
<line x1="117.70" y1="792.01" x2="227.70" y2="741.00" stroke="#ee1c24" stroke-width="1.5" stroke-dasharray="1.55 1.1"/>
<line x1="117.70" y1="792.37" x2="227.70" y2="757.40" stroke="#ee1c24" stroke-width="1.5" stroke-dasharray="1.55 1.1"/>
<line x1="117.70" y1="793.73" x2="227.70" y2="777.28" stroke="#ee1c24" stroke-width="1.5" stroke-dasharray="1.55 1.1"/>
<line x1="117.70" y1="794.77" x2="227.70" y2="769.82" stroke="#ee1c24" stroke-width="1.5" stroke-dasharray="1.55 1.1"/>
<line x1="117.70" y1="795.57" x2="227.70" y2="776.77" stroke="#ee1c24" stroke-width="1.5" stroke-dasharray="1.55 1.1"/>
<line x1="117.70" y1="796.75" x2="227.70" y2="743.60" stroke="#ee1c24" stroke-width="1.5" stroke-dasharray="1.55 1.1"/>
<line x1="117.70" y1="797.70" x2="227.70" y2="763.33" stroke="#ee1c24" stroke-width="1.5" stroke-dasharray="1.55 1.1"/>
<line x1="117.70" y1="799.12" x2="227.70" y2="748.00" stroke="#ee1c24" stroke-width="1.5" stroke-dasharray="1.55 1.1"/>
<line x1="117.70" y1="799.40" x2="227.70" y2="769.61" stroke="#ee1c24" stroke-width="1.5" stroke-dasharray="1.55 1.1"/>
<line x1="117.70" y1="803.20" x2="227.70" y2="771.90" stroke="#ee1c24" stroke-width="1.5" stroke-dasharray="1.55 1.1"/>
<line x1="117.70" y1="806.24" x2="227.70" y2="746.20" stroke="#ee1c24" stroke-width="1.5" stroke-dasharray="1.55 1.1"/>
<line x1="117.70" y1="806.71" x2="227.70" y2="755.83" stroke="#ee1c24" stroke-width="1.5" stroke-dasharray="1.55 1.1"/>
<line x1="117.70" y1="807.76" x2="227.70" y2="761.88" stroke="#ee1c24" stroke-width="1.5" stroke-dasharray="1.55 1.1"/>
<line x1="117.70" y1="808.90" x2="227.70" y2="793.80" stroke="#ee1c24" stroke-width="1.5" stroke-dasharray="1.55 1.1"/>
<line x1="117.70" y1="809.47" x2="227.70" y2="780.75" stroke="#ee1c24" stroke-width="1.5" stroke-dasharray="1.55 1.1"/>
<line x1="117.70" y1="810.38" x2="227.70" y2="756.88" stroke="#ee1c24" stroke-width="1.5" stroke-dasharray="1.55 1.1"/>
<line x1="117.70" y1="813.30" x2="227.70" y2="782.24" stroke="#ee1c24" stroke-width="1.5" stroke-dasharray="1.55 1.1"/>
<line x1="117.70" y1="815.70" x2="227.70" y2="758.23" stroke="#ee1c24" stroke-width="1.5" stroke-dasharray="1.55 1.1"/>
<line x1="117.70" y1="818.83" x2="227.70" y2="778.79" stroke="#ee1c24" stroke-width="1.5" stroke-dasharray="1.55 1.1"/>
<line x1="117.70" y1="819.14" x2="227.70" y2="760.92" stroke="#ee1c24" stroke-width="1.5" stroke-dasharray="1.55 1.1"/>
<line x1="117.70" y1="820.48" x2="227.70" y2="752.30" stroke="#ee1c24" stroke-width="1.5" stroke-dasharray="1.55 1.1"/>
<line x1="117.70" y1="821.97" x2="227.70" y2="796.40" stroke="#ee1c24" stroke-width="1.5" stroke-dasharray="1.55 1.1"/>
<line x1="117.70" y1="822.93" x2="227.70" y2="764.41" stroke="#ee1c24" stroke-width="1.5" stroke-dasharray="1.55 1.1"/>
<line x1="117.70" y1="823.00" x2="227.70" y2="766.32" stroke="#ee1c24" stroke-width="1.5" stroke-dasharray="1.55 1.1"/>
<line x1="117.70" y1="824.11" x2="227.70" y2="805.90" stroke="#ee1c24" stroke-width="1.5" stroke-dasharray="1.55 1.1"/>
<line x1="117.70" y1="825.12" x2="227.70" y2="800.70" stroke="#ee1c24" stroke-width="1.5" stroke-dasharray="1.55 1.1"/>
<line x1="117.70" y1="826.74" x2="227.70" y2="773.43" stroke="#ee1c24" stroke-width="1.5" stroke-dasharray="1.55 1.1"/>
<line x1="117.70" y1="866.60" x2="227.70" y2="790.30" stroke="#ee1c24" stroke-width="1.5" stroke-dasharray="1.55 1.1"/>
<line x1="117.70" y1="845.80" x2="227.70" y2="783.24" stroke="#ee1c24" stroke-width="1.5" stroke-dasharray="1.55 1.1"/>
<line x1="117.70" y1="834.40" x2="227.70" y2="779.46" stroke="#ee1c24" stroke-width="1.5" stroke-dasharray="1.55 1.1"/>
<line x1="117.70" y1="751.80" x2="227.70" y2="768.27" stroke="#ee1c24" stroke-width="1.5" stroke-dasharray="1.55 1.1"/>
<text x="-0.80" y="804.00" font-size="14.5" text-anchor="start" fill="#000" textLength="21.5" lengthAdjust="spacingAndGlyphs">SM</text>
<text x="141.90" y="740.90" font-size="12" text-anchor="start" fill="#000" textLength="54.9" lengthAdjust="spacingAndGlyphs">p &lt; 0.0001</text>
<text x="117.35" y="890.70" font-size="12.4" text-anchor="middle" fill="#2a2a2a" textLength="45.1" lengthAdjust="spacingAndGlyphs">Baseline</text>
<text x="229.95" y="890.70" font-size="12.4" text-anchor="middle" fill="#2a2a2a" textLength="54.7" lengthAdjust="spacingAndGlyphs">After Enza</text>
<line x1="408.80" y1="84.00" x2="408.80" y2="415.20" stroke="#000" stroke-width="1.4"/>
<line x1="408.10" y1="414.50" x2="602.00" y2="414.50" stroke="#000" stroke-width="1.4"/>
<line x1="406.30" y1="98.60" x2="408.80" y2="98.60" stroke="#4d4d4d" stroke-width="0.9"/>
<text x="403.80" y="103.00" font-size="11.3" text-anchor="end" fill="#3a3a3a" textLength="20.2" lengthAdjust="spacingAndGlyphs">1.00</text>
<line x1="406.30" y1="173.80" x2="408.80" y2="173.80" stroke="#4d4d4d" stroke-width="0.9"/>
<text x="403.80" y="178.20" font-size="11.3" text-anchor="end" fill="#3a3a3a" textLength="20.2" lengthAdjust="spacingAndGlyphs">0.75</text>
<line x1="406.30" y1="249.00" x2="408.80" y2="249.00" stroke="#4d4d4d" stroke-width="0.9"/>
<text x="403.80" y="253.40" font-size="11.3" text-anchor="end" fill="#3a3a3a" textLength="20.2" lengthAdjust="spacingAndGlyphs">0.50</text>
<line x1="406.30" y1="324.20" x2="408.80" y2="324.20" stroke="#4d4d4d" stroke-width="0.9"/>
<text x="403.80" y="328.60" font-size="11.3" text-anchor="end" fill="#3a3a3a" textLength="20.2" lengthAdjust="spacingAndGlyphs">0.25</text>
<line x1="406.30" y1="399.40" x2="408.80" y2="399.40" stroke="#4d4d4d" stroke-width="0.9"/>
<text x="403.80" y="403.80" font-size="11.3" text-anchor="end" fill="#3a3a3a" textLength="20.2" lengthAdjust="spacingAndGlyphs">0.00</text>
<line x1="458.25" y1="414.50" x2="458.25" y2="417.00" stroke="#4d4d4d" stroke-width="0.9"/>
<rect x="421.00" y="98.60" width="74.50" height="19.10" fill="#eef2fa" stroke="none" stroke-width="0"/>
<rect x="421.00" y="117.70" width="74.50" height="202.30" fill="#bfd5e9" stroke="none" stroke-width="0"/>
<rect x="421.00" y="320.00" width="74.50" height="74.20" fill="#6baed6" stroke="none" stroke-width="0"/>
<rect x="421.00" y="394.20" width="74.50" height="5.20" fill="#2171b5" stroke="none" stroke-width="0"/>
<line x1="540.95" y1="414.50" x2="540.95" y2="417.00" stroke="#4d4d4d" stroke-width="0.9"/>
<rect x="503.60" y="98.60" width="74.70" height="22.30" fill="#eef2fa" stroke="none" stroke-width="0"/>
<rect x="503.60" y="120.90" width="74.70" height="249.90" fill="#bfd5e9" stroke="none" stroke-width="0"/>
<rect x="503.60" y="370.80" width="74.70" height="22.50" fill="#6baed6" stroke="none" stroke-width="0"/>
<rect x="503.60" y="393.30" width="74.70" height="6.10" fill="#2171b5" stroke="none" stroke-width="0"/>
<path d="M458.40 232.10L458.40 229.45M458.40 232.10L460.92 231.28M458.40 232.10L459.96 234.24M458.40 232.10L456.84 234.24M458.40 232.10L455.88 231.28" stroke="#000" stroke-width="1.2" stroke-linecap="round" fill="none"/>
<path d="M458.40 382.60L458.40 379.95M458.40 382.60L460.92 381.78M458.40 382.60L459.96 384.74M458.40 382.60L456.84 384.74M458.40 382.60L455.88 381.78" stroke="#000" stroke-width="1.2" stroke-linecap="round" fill="none"/>
<path d="M458.40 397.00L458.40 394.35M458.40 397.00L460.92 396.18M458.40 397.00L459.96 399.14M458.40 397.00L456.84 399.14M458.40 397.00L455.88 396.18" stroke="#000" stroke-width="1.2" stroke-linecap="round" fill="none"/>
<path d="M540.80 232.10L540.80 229.45M540.80 232.10L543.32 231.28M540.80 232.10L542.36 234.24M540.80 232.10L539.24 234.24M540.80 232.10L538.28 231.28" stroke="#000" stroke-width="1.2" stroke-linecap="round" fill="none"/>
<path d="M540.80 382.60L540.80 379.95M540.80 382.60L543.32 381.78M540.80 382.60L542.36 384.74M540.80 382.60L539.24 384.74M540.80 382.60L538.28 381.78" stroke="#000" stroke-width="1.2" stroke-linecap="round" fill="none"/>
<path d="M540.80 397.00L540.80 394.35M540.80 397.00L543.32 396.18M540.80 397.00L542.36 399.14M540.80 397.00L539.24 399.14M540.80 397.00L538.28 396.18" stroke="#000" stroke-width="1.2" stroke-linecap="round" fill="none"/>
<rect x="421.00" y="98.60" width="74.50" height="19.10" fill="none" stroke="#000" stroke-width="1.15"/>
<rect x="421.00" y="117.70" width="74.50" height="202.30" fill="none" stroke="#000" stroke-width="1.15"/>
<rect x="421.00" y="320.00" width="74.50" height="74.20" fill="none" stroke="#000" stroke-width="1.15"/>
<rect x="421.00" y="394.20" width="74.50" height="5.20" fill="none" stroke="#000" stroke-width="1.15"/>
<rect x="503.60" y="98.60" width="74.70" height="22.30" fill="none" stroke="#000" stroke-width="1.15"/>
<rect x="503.60" y="120.90" width="74.70" height="249.90" fill="none" stroke="#000" stroke-width="1.15"/>
<rect x="503.60" y="370.80" width="74.70" height="22.50" fill="none" stroke="#000" stroke-width="1.15"/>
<rect x="503.60" y="393.30" width="74.70" height="6.10" fill="none" stroke="#000" stroke-width="1.15"/>
<text x="372.00" y="242.30" font-size="12.5" text-anchor="middle" fill="#000" textLength="206.8" lengthAdjust="spacingAndGlyphs" transform="rotate(-90 372.00 242.30)">Percentage on total phospholipids</text>
<text x="458.75" y="435.00" font-size="10.5" text-anchor="middle" fill="#2a2a2a" textLength="39" lengthAdjust="spacingAndGlyphs">Baseline</text>
<text x="543.50" y="435.00" font-size="10.5" text-anchor="middle" fill="#2a2a2a" textLength="48.4" lengthAdjust="spacingAndGlyphs">After Enza</text>
<text x="620.10" y="175.90" font-size="14.3" text-anchor="start" fill="#000" textLength="66.5" lengthAdjust="spacingAndGlyphs">Lipid class</text>
<rect x="621.40" y="182.80" width="21.00" height="85.95" fill="#3a3a3a" stroke="none" stroke-width="0"/>
<rect x="621.75" y="183.05" width="20.20" height="19.80" fill="#eff3fb" stroke="#0d0d0d" stroke-width="1.3"/>
<text x="650.40" y="198.00" font-size="12.6" text-anchor="start" fill="#000" textLength="29.9" lengthAdjust="spacingAndGlyphs">Other</text>
<rect x="621.75" y="204.90" width="20.20" height="19.80" fill="#deebf7" stroke="#0d0d0d" stroke-width="1.3"/>
<text x="650.40" y="218.40" font-size="12.6" text-anchor="start" fill="#000" textLength="16.8" lengthAdjust="spacingAndGlyphs">PC</text>
<rect x="621.75" y="226.75" width="20.20" height="19.80" fill="#9ecae1" stroke="#0d0d0d" stroke-width="1.3"/>
<text x="650.40" y="239.30" font-size="12.6" text-anchor="start" fill="#000" textLength="16.1" lengthAdjust="spacingAndGlyphs">PE</text>
<rect x="621.75" y="248.60" width="20.20" height="19.80" fill="#3182bd" stroke="#0d0d0d" stroke-width="1.3"/>
<text x="650.40" y="262.10" font-size="12.6" text-anchor="start" fill="#000" textLength="11.0" lengthAdjust="spacingAndGlyphs">PI</text>
<text x="621.50" y="293.40" font-size="12.3" text-anchor="start" fill="#000" textLength="51.3" lengthAdjust="spacingAndGlyphs">* p &lt; 0.05</text>
<line x1="410.90" y1="575.00" x2="410.90" y2="906.40" stroke="#000" stroke-width="1.4"/>
<line x1="410.20" y1="905.70" x2="603.00" y2="905.70" stroke="#000" stroke-width="1.4"/>
<line x1="408.40" y1="590.00" x2="410.90" y2="590.00" stroke="#4d4d4d" stroke-width="0.9"/>
<text x="403.50" y="594.40" font-size="11.3" text-anchor="end" fill="#3a3a3a" textLength="20.2" lengthAdjust="spacingAndGlyphs">1.00</text>
<line x1="408.40" y1="665.20" x2="410.90" y2="665.20" stroke="#4d4d4d" stroke-width="0.9"/>
<text x="403.50" y="669.60" font-size="11.3" text-anchor="end" fill="#3a3a3a" textLength="20.2" lengthAdjust="spacingAndGlyphs">0.75</text>
<line x1="408.40" y1="740.40" x2="410.90" y2="740.40" stroke="#4d4d4d" stroke-width="0.9"/>
<text x="403.50" y="744.80" font-size="11.3" text-anchor="end" fill="#3a3a3a" textLength="20.2" lengthAdjust="spacingAndGlyphs">0.50</text>
<line x1="408.40" y1="815.60" x2="410.90" y2="815.60" stroke="#4d4d4d" stroke-width="0.9"/>
<text x="403.50" y="820.00" font-size="11.3" text-anchor="end" fill="#3a3a3a" textLength="20.2" lengthAdjust="spacingAndGlyphs">0.25</text>
<line x1="408.40" y1="890.80" x2="410.90" y2="890.80" stroke="#4d4d4d" stroke-width="0.9"/>
<text x="403.50" y="895.20" font-size="11.3" text-anchor="end" fill="#3a3a3a" textLength="20.2" lengthAdjust="spacingAndGlyphs">0.00</text>
<line x1="460.30" y1="905.70" x2="460.30" y2="908.20" stroke="#4d4d4d" stroke-width="0.9"/>
<rect x="422.80" y="590.00" width="75.00" height="51.30" fill="#deebf7" stroke="none" stroke-width="0"/>
<rect x="422.80" y="641.30" width="75.00" height="238.50" fill="#9ecae1" stroke="none" stroke-width="0"/>
<rect x="422.80" y="879.80" width="75.00" height="11.00" fill="#3182bd" stroke="none" stroke-width="0"/>
<line x1="542.80" y1="905.70" x2="542.80" y2="908.20" stroke="#4d4d4d" stroke-width="0.9"/>
<rect x="505.70" y="590.00" width="74.20" height="30.00" fill="#deebf7" stroke="none" stroke-width="0"/>
<rect x="505.70" y="620.00" width="74.20" height="255.40" fill="#9ecae1" stroke="none" stroke-width="0"/>
<rect x="505.70" y="875.40" width="74.20" height="15.40" fill="#3182bd" stroke="none" stroke-width="0"/>
<path d="M462.20 607.20L462.20 604.55M462.20 607.20L464.72 606.38M462.20 607.20L463.76 609.34M462.20 607.20L460.64 609.34M462.20 607.20L459.68 606.38" stroke="#000" stroke-width="1.2" stroke-linecap="round" fill="none"/>
<path d="M462.20 756.20L462.20 753.55M462.20 756.20L464.72 755.38M462.20 756.20L463.76 758.34M462.20 756.20L460.64 758.34M462.20 756.20L459.68 755.38" stroke="#000" stroke-width="1.2" stroke-linecap="round" fill="none"/>
<path d="M544.60 607.20L544.60 604.55M544.60 607.20L547.12 606.38M544.60 607.20L546.16 609.34M544.60 607.20L543.04 609.34M544.60 607.20L542.08 606.38" stroke="#000" stroke-width="1.2" stroke-linecap="round" fill="none"/>
<path d="M544.60 756.20L544.60 753.55M544.60 756.20L547.12 755.38M544.60 756.20L546.16 758.34M544.60 756.20L543.04 758.34M544.60 756.20L542.08 755.38" stroke="#000" stroke-width="1.2" stroke-linecap="round" fill="none"/>
<rect x="422.80" y="590.00" width="75.00" height="51.30" fill="none" stroke="#000" stroke-width="1.15"/>
<rect x="422.80" y="641.30" width="75.00" height="238.50" fill="none" stroke="#000" stroke-width="1.15"/>
<rect x="422.80" y="879.80" width="75.00" height="11.00" fill="none" stroke="#000" stroke-width="1.15"/>
<rect x="505.70" y="590.00" width="74.20" height="30.00" fill="none" stroke="#000" stroke-width="1.15"/>
<rect x="505.70" y="620.00" width="74.20" height="255.40" fill="none" stroke="#000" stroke-width="1.15"/>
<rect x="505.70" y="875.40" width="74.20" height="15.40" fill="none" stroke="#000" stroke-width="1.15"/>
<text x="369.50" y="739.00" font-size="12.5" text-anchor="middle" fill="#000" textLength="204.1" lengthAdjust="spacingAndGlyphs" transform="rotate(-90 369.50 739.00)">Percentage on total sphingolipids</text>
<text x="460.70" y="923.20" font-size="10.5" text-anchor="middle" fill="#2a2a2a" textLength="39.4" lengthAdjust="spacingAndGlyphs">Baseline</text>
<text x="545.60" y="923.20" font-size="10.5" text-anchor="middle" fill="#2a2a2a" textLength="47.2" lengthAdjust="spacingAndGlyphs">After Enza</text>
<text x="615.80" y="701.80" font-size="14.3" text-anchor="start" fill="#000" textLength="64.3" lengthAdjust="spacingAndGlyphs">Lipid class</text>
<rect x="617.00" y="710.20" width="20.80" height="63.40" fill="#3a3a3a" stroke="none" stroke-width="0"/>
<rect x="617.40" y="710.45" width="20.00" height="19.70" fill="#deebf7" stroke="#0d0d0d" stroke-width="1.3"/>
<text x="646.00" y="724.70" font-size="12.6" text-anchor="start" fill="#000" textLength="19.4" lengthAdjust="spacingAndGlyphs">Cer</text>
<rect x="617.40" y="732.05" width="20.00" height="19.70" fill="#9ecae1" stroke="#0d0d0d" stroke-width="1.3"/>
<text x="646.00" y="745.10" font-size="12.6" text-anchor="start" fill="#000" textLength="17.8" lengthAdjust="spacingAndGlyphs">SM</text>
<rect x="617.40" y="753.65" width="20.00" height="19.70" fill="#3182bd" stroke="#0d0d0d" stroke-width="1.3"/>
<text x="646.00" y="767.80" font-size="12.6" text-anchor="start" fill="#000" textLength="30.0" lengthAdjust="spacingAndGlyphs">Other</text>
<text x="617.30" y="795.60" font-size="12.3" text-anchor="start" fill="#000" textLength="51.3" lengthAdjust="spacingAndGlyphs">* p &lt; 0.05</text>
</svg></body></html>
